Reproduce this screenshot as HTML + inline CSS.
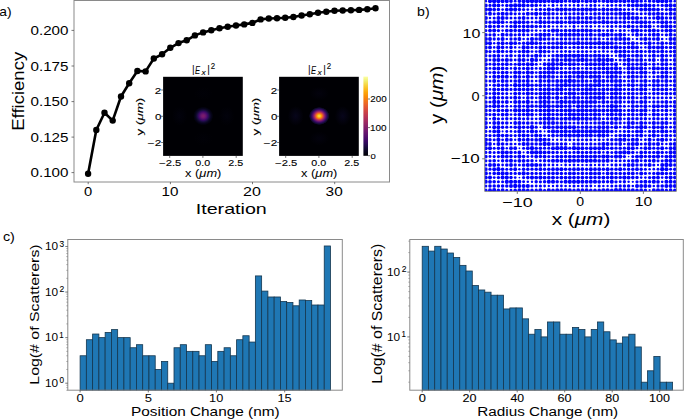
<!DOCTYPE html><html><head><meta charset="utf-8"><style>html,body{margin:0;padding:0;background:#fff}svg{display:block}</style></head><body><svg width="685" height="420" viewBox="0 0 685 420" font-family="Liberation Sans, sans-serif"><rect width="685" height="420" fill="#fff"/><rect x="74.0" y="0.5" width="315.5" height="181.5" fill="none" stroke="#8a8a8a" stroke-width="1"/>
<line x1="71.5" y1="30.4" x2="74.0" y2="30.4" stroke="#555" stroke-width="0.8"/>
<line x1="71.5" y1="66.0" x2="74.0" y2="66.0" stroke="#555" stroke-width="0.8"/>
<line x1="71.5" y1="101.6" x2="74.0" y2="101.6" stroke="#555" stroke-width="0.8"/>
<line x1="71.5" y1="137.1" x2="74.0" y2="137.1" stroke="#555" stroke-width="0.8"/>
<line x1="71.5" y1="172.6" x2="74.0" y2="172.6" stroke="#555" stroke-width="0.8"/>
<line x1="88.2" y1="182.0" x2="88.2" y2="184.2" stroke="#555" stroke-width="0.8"/>
<line x1="170.4" y1="182.0" x2="170.4" y2="184.2" stroke="#555" stroke-width="0.8"/>
<line x1="252.5" y1="182.0" x2="252.5" y2="184.2" stroke="#555" stroke-width="0.8"/>
<line x1="334.7" y1="182.0" x2="334.7" y2="184.2" stroke="#555" stroke-width="0.8"/>
<defs><radialGradient id="spot0" cx="0.5" cy="0.5" r="0.5"><stop offset="0.000" stop-color="#7c1d6d" stop-opacity="1"/><stop offset="0.050" stop-color="#7a1d6d" stop-opacity="1"/><stop offset="0.100" stop-color="#771c6d" stop-opacity="1"/><stop offset="0.150" stop-color="#721a6e" stop-opacity="1"/><stop offset="0.200" stop-color="#6c186e" stop-opacity="1"/><stop offset="0.250" stop-color="#64156e" stop-opacity="1"/><stop offset="0.300" stop-color="#5a116e" stop-opacity="1"/><stop offset="0.350" stop-color="#510e6c" stop-opacity="1"/><stop offset="0.400" stop-color="#470b6a" stop-opacity="1"/><stop offset="0.450" stop-color="#3b0964" stop-opacity="1"/><stop offset="0.500" stop-color="#310a5c" stop-opacity="1"/><stop offset="0.550" stop-color="#260c51" stop-opacity="1"/><stop offset="0.600" stop-color="#1c0c43" stop-opacity="1"/><stop offset="0.650" stop-color="#150b37" stop-opacity="1"/><stop offset="0.700" stop-color="#10092d" stop-opacity="1"/><stop offset="0.750" stop-color="#0b0724" stop-opacity="1"/><stop offset="0.800" stop-color="#07051b" stop-opacity="1"/><stop offset="0.850" stop-color="#050417" stop-opacity="1"/><stop offset="0.900" stop-color="#030210" stop-opacity="1"/><stop offset="0.950" stop-color="#02020c" stop-opacity="1"/><stop offset="1.000" stop-color="#02010a" stop-opacity="0"/></radialGradient>
<radialGradient id="lobe0" cx="0.5" cy="0.5" r="0.5"><stop offset="0" stop-color="#02020c" stop-opacity="1"/><stop offset="1" stop-color="#02020c" stop-opacity="0"/></radialGradient></defs>
<rect x="163.1" y="76.8" width="79.70000000000002" height="79.10000000000001" fill="#000004"/>
<ellipse cx="179.7" cy="116.0" rx="8" ry="10" fill="url(#lobe0)" opacity="1"/>
<ellipse cx="226.7" cy="116.0" rx="8" ry="10" fill="url(#lobe0)" opacity="1"/>
<ellipse cx="203.2" cy="93.5" rx="10" ry="7" fill="url(#lobe0)" opacity="0.4"/>
<ellipse cx="203.2" cy="138.5" rx="10" ry="7" fill="url(#lobe0)" opacity="0.4"/>
<ellipse cx="203.2" cy="116.0" rx="10" ry="9.3" fill="url(#spot0)"/>
<line x1="161.1" y1="90.0" x2="163.1" y2="90.0" stroke="#555" stroke-width="0.8"/>
<line x1="161.1" y1="116.3" x2="163.1" y2="116.3" stroke="#555" stroke-width="0.8"/>
<line x1="161.1" y1="142.5" x2="163.1" y2="142.5" stroke="#555" stroke-width="0.8"/>
<line x1="169.7" y1="155.9" x2="169.7" y2="157.9" stroke="#555" stroke-width="0.8"/>
<line x1="202.9" y1="155.9" x2="202.9" y2="157.9" stroke="#555" stroke-width="0.8"/>
<line x1="236.2" y1="155.9" x2="236.2" y2="157.9" stroke="#555" stroke-width="0.8"/>
<defs><radialGradient id="spot116" cx="0.5" cy="0.5" r="0.5"><stop offset="0.000" stop-color="#f6d746" stop-opacity="1"/><stop offset="0.050" stop-color="#f7d340" stop-opacity="1"/><stop offset="0.100" stop-color="#f9c932" stop-opacity="1"/><stop offset="0.150" stop-color="#fbba1f" stop-opacity="1"/><stop offset="0.200" stop-color="#fca50a" stop-opacity="1"/><stop offset="0.250" stop-color="#f98b0b" stop-opacity="1"/><stop offset="0.300" stop-color="#f1711f" stop-opacity="1"/><stop offset="0.350" stop-color="#e35933" stop-opacity="1"/><stop offset="0.400" stop-color="#cf4446" stop-opacity="1"/><stop offset="0.450" stop-color="#b73557" stop-opacity="1"/><stop offset="0.500" stop-color="#9d2964" stop-opacity="1"/><stop offset="0.550" stop-color="#84206b" stop-opacity="1"/><stop offset="0.600" stop-color="#6d186e" stop-opacity="1"/><stop offset="0.650" stop-color="#57106e" stop-opacity="1"/><stop offset="0.700" stop-color="#440a68" stop-opacity="1"/><stop offset="0.750" stop-color="#320a5e" stop-opacity="1"/><stop offset="0.800" stop-color="#230c4c" stop-opacity="1"/><stop offset="0.850" stop-color="#180c3c" stop-opacity="1"/><stop offset="0.900" stop-color="#10092d" stop-opacity="1"/><stop offset="0.950" stop-color="#0a0722" stop-opacity="1"/><stop offset="1.000" stop-color="#060419" stop-opacity="0"/></radialGradient>
<radialGradient id="lobe116" cx="0.5" cy="0.5" r="0.5"><stop offset="0" stop-color="#07051b" stop-opacity="1"/><stop offset="1" stop-color="#07051b" stop-opacity="0"/></radialGradient></defs>
<rect x="279.1" y="76.8" width="79.69999999999999" height="79.10000000000001" fill="#000004"/>
<ellipse cx="295.7" cy="116.0" rx="8" ry="10" fill="url(#lobe116)" opacity="1"/>
<ellipse cx="342.7" cy="116.0" rx="8" ry="10" fill="url(#lobe116)" opacity="1"/>
<ellipse cx="319.2" cy="93.5" rx="10" ry="7" fill="url(#lobe116)" opacity="0.4"/>
<ellipse cx="319.2" cy="138.5" rx="10" ry="7" fill="url(#lobe116)" opacity="0.4"/>
<ellipse cx="319.2" cy="116.0" rx="10.2" ry="9.0" fill="url(#spot116)"/>
<line x1="277.1" y1="90.0" x2="279.1" y2="90.0" stroke="#555" stroke-width="0.8"/>
<line x1="277.1" y1="116.3" x2="279.1" y2="116.3" stroke="#555" stroke-width="0.8"/>
<line x1="277.1" y1="142.5" x2="279.1" y2="142.5" stroke="#555" stroke-width="0.8"/>
<line x1="285.7" y1="155.9" x2="285.7" y2="157.9" stroke="#555" stroke-width="0.8"/>
<line x1="318.9" y1="155.9" x2="318.9" y2="157.9" stroke="#555" stroke-width="0.8"/>
<line x1="352.2" y1="155.9" x2="352.2" y2="157.9" stroke="#555" stroke-width="0.8"/>
<defs><linearGradient id="cbar" x1="0" y1="0" x2="0" y2="1"><stop offset="0.00" stop-color="#fcffa4"/><stop offset="0.05" stop-color="#f1ef75"/><stop offset="0.10" stop-color="#f6d746"/><stop offset="0.15" stop-color="#fbbe23"/><stop offset="0.20" stop-color="#fca50a"/><stop offset="0.25" stop-color="#f98e09"/><stop offset="0.30" stop-color="#f37819"/><stop offset="0.35" stop-color="#ea632a"/><stop offset="0.40" stop-color="#dd513a"/><stop offset="0.45" stop-color="#cc4248"/><stop offset="0.50" stop-color="#bc3754"/><stop offset="0.55" stop-color="#a82e5f"/><stop offset="0.60" stop-color="#932667"/><stop offset="0.65" stop-color="#7f1e6c"/><stop offset="0.70" stop-color="#6a176e"/><stop offset="0.75" stop-color="#57106e"/><stop offset="0.80" stop-color="#420a68"/><stop offset="0.85" stop-color="#2b0b57"/><stop offset="0.90" stop-color="#160b39"/><stop offset="0.95" stop-color="#07051b"/><stop offset="1.00" stop-color="#000004"/></linearGradient></defs>
<rect x="363.4" y="76.6" width="4.6" height="79.2" fill="url(#cbar)"/>
<line x1="368" y1="155.7" x2="370" y2="155.7" stroke="#555" stroke-width="0.8"/>
<line x1="368" y1="127.6" x2="370" y2="127.6" stroke="#555" stroke-width="0.8"/>
<line x1="368" y1="99.0" x2="370" y2="99.0" stroke="#555" stroke-width="0.8"/>
<path d="M88.1,173.7 L96.3,130.0 L104.5,112.8 L112.7,120.6 L121.0,96.5 L129.2,83.2 L137.4,71.0 L145.6,71.4 L153.8,58.5 L162.1,54.3 L170.3,47.8 L178.5,43.1 L186.7,40.3 L194.9,35.4 L203.1,32.4 L211.3,30.2 L219.5,28.2 L227.7,26.7 L236.0,25.5 L244.2,24.4 L252.4,22.9 L260.6,19.4 L268.8,18.5 L277.0,18.2 L285.2,17.8 L293.4,17.0 L301.6,15.5 L309.8,14.2 L318.0,12.7 L326.3,11.7 L334.5,10.8 L342.7,10.5 L350.9,10.2 L359.1,9.9 L367.3,9.2 L375.5,8.3" fill="none" stroke="#000" stroke-width="2.6" stroke-linejoin="round"/>
<circle cx="88.1" cy="173.7" r="3.2" fill="#000"/>
<circle cx="96.3" cy="130.0" r="3.2" fill="#000"/>
<circle cx="104.5" cy="112.8" r="3.2" fill="#000"/>
<circle cx="112.7" cy="120.6" r="3.2" fill="#000"/>
<circle cx="121.0" cy="96.5" r="3.2" fill="#000"/>
<circle cx="129.2" cy="83.2" r="3.2" fill="#000"/>
<circle cx="137.4" cy="71.0" r="3.2" fill="#000"/>
<circle cx="145.6" cy="71.4" r="3.2" fill="#000"/>
<circle cx="153.8" cy="58.5" r="3.2" fill="#000"/>
<circle cx="162.1" cy="54.3" r="3.2" fill="#000"/>
<circle cx="170.3" cy="47.8" r="3.2" fill="#000"/>
<circle cx="178.5" cy="43.1" r="3.2" fill="#000"/>
<circle cx="186.7" cy="40.3" r="3.2" fill="#000"/>
<circle cx="194.9" cy="35.4" r="3.2" fill="#000"/>
<circle cx="203.1" cy="32.4" r="3.2" fill="#000"/>
<circle cx="211.3" cy="30.2" r="3.2" fill="#000"/>
<circle cx="219.5" cy="28.2" r="3.2" fill="#000"/>
<circle cx="227.7" cy="26.7" r="3.2" fill="#000"/>
<circle cx="236.0" cy="25.5" r="3.2" fill="#000"/>
<circle cx="244.2" cy="24.4" r="3.2" fill="#000"/>
<circle cx="252.4" cy="22.9" r="3.2" fill="#000"/>
<circle cx="260.6" cy="19.4" r="3.2" fill="#000"/>
<circle cx="268.8" cy="18.5" r="3.2" fill="#000"/>
<circle cx="277.0" cy="18.2" r="3.2" fill="#000"/>
<circle cx="285.2" cy="17.8" r="3.2" fill="#000"/>
<circle cx="293.4" cy="17.0" r="3.2" fill="#000"/>
<circle cx="301.6" cy="15.5" r="3.2" fill="#000"/>
<circle cx="309.8" cy="14.2" r="3.2" fill="#000"/>
<circle cx="318.0" cy="12.7" r="3.2" fill="#000"/>
<circle cx="326.3" cy="11.7" r="3.2" fill="#000"/>
<circle cx="334.5" cy="10.8" r="3.2" fill="#000"/>
<circle cx="342.7" cy="10.5" r="3.2" fill="#000"/>
<circle cx="350.9" cy="10.2" r="3.2" fill="#000"/>
<circle cx="359.1" cy="9.9" r="3.2" fill="#000"/>
<circle cx="367.3" cy="9.2" r="3.2" fill="#000"/>
<circle cx="375.5" cy="8.3" r="3.2" fill="#000"/>
<defs><clipPath id="bclip"><rect x="484.7" y="0.0" width="191.7" height="191.4"/></clipPath></defs>
<g clip-path="url(#bclip)" fill="#0000ff">
<circle cx="485.8" cy="1.2" r="1.35"/>
<circle cx="490.0" cy="1.2" r="1.94"/>
<circle cx="494.2" cy="1.2" r="2.16"/>
<circle cx="498.4" cy="1.2" r="2.07"/>
<circle cx="502.6" cy="1.2" r="1.93"/>
<circle cx="506.8" cy="1.2" r="1.93"/>
<circle cx="511.0" cy="1.2" r="1.75"/>
<circle cx="515.2" cy="1.2" r="1.40"/>
<circle cx="519.4" cy="1.2" r="1.76"/>
<circle cx="523.6" cy="1.2" r="1.98"/>
<circle cx="527.8" cy="1.2" r="2.01"/>
<circle cx="532.0" cy="1.2" r="2.13"/>
<circle cx="536.2" cy="1.2" r="2.05"/>
<circle cx="540.4" cy="1.2" r="2.10"/>
<circle cx="544.6" cy="1.2" r="2.08"/>
<circle cx="548.8" cy="1.2" r="1.76"/>
<circle cx="553.0" cy="1.2" r="1.96"/>
<circle cx="557.2" cy="1.2" r="2.05"/>
<circle cx="561.4" cy="1.2" r="2.00"/>
<circle cx="565.6" cy="1.2" r="1.67"/>
<circle cx="569.8" cy="1.2" r="1.64"/>
<circle cx="574.0" cy="1.2" r="2.01"/>
<circle cx="578.2" cy="1.2" r="1.95"/>
<circle cx="582.4" cy="1.2" r="1.54"/>
<circle cx="586.6" cy="1.2" r="2.04"/>
<circle cx="590.8" cy="1.2" r="1.69"/>
<circle cx="595.0" cy="1.2" r="1.95"/>
<circle cx="599.2" cy="1.2" r="1.49"/>
<circle cx="603.4" cy="1.2" r="1.82"/>
<circle cx="607.6" cy="1.2" r="2.00"/>
<circle cx="611.8" cy="1.2" r="1.94"/>
<circle cx="616.0" cy="1.2" r="1.88"/>
<circle cx="620.2" cy="1.2" r="1.75"/>
<circle cx="624.4" cy="1.2" r="2.04"/>
<circle cx="628.6" cy="1.2" r="1.66"/>
<circle cx="632.8" cy="1.2" r="2.00"/>
<circle cx="637.0" cy="1.2" r="1.83"/>
<circle cx="641.2" cy="1.2" r="1.65"/>
<circle cx="645.4" cy="1.2" r="1.39"/>
<circle cx="649.6" cy="1.2" r="1.67"/>
<circle cx="653.8" cy="1.2" r="1.72"/>
<circle cx="658.0" cy="1.2" r="2.08"/>
<circle cx="662.2" cy="1.2" r="2.03"/>
<circle cx="666.4" cy="1.2" r="1.98"/>
<circle cx="670.6" cy="1.2" r="1.63"/>
<circle cx="674.8" cy="1.2" r="1.32"/>
<circle cx="485.8" cy="5.4" r="1.96"/>
<circle cx="490.0" cy="5.4" r="1.61"/>
<circle cx="494.2" cy="5.4" r="2.10"/>
<circle cx="498.4" cy="5.4" r="1.93"/>
<circle cx="502.6" cy="5.4" r="1.32"/>
<circle cx="506.8" cy="5.4" r="1.75"/>
<circle cx="511.0" cy="5.4" r="2.02"/>
<circle cx="515.2" cy="5.4" r="2.09"/>
<circle cx="519.4" cy="5.4" r="2.14"/>
<circle cx="523.6" cy="5.4" r="2.08"/>
<circle cx="527.8" cy="5.4" r="1.74"/>
<circle cx="532.0" cy="5.4" r="1.85"/>
<circle cx="536.2" cy="5.4" r="1.79"/>
<circle cx="540.4" cy="5.4" r="1.39"/>
<circle cx="544.6" cy="5.4" r="1.51"/>
<circle cx="548.8" cy="5.4" r="1.09"/>
<circle cx="553.0" cy="5.4" r="1.54"/>
<circle cx="557.2" cy="5.4" r="1.15"/>
<circle cx="561.4" cy="5.4" r="1.49"/>
<circle cx="565.6" cy="5.4" r="1.37"/>
<circle cx="569.8" cy="5.4" r="1.30"/>
<circle cx="574.0" cy="5.4" r="1.34"/>
<circle cx="578.2" cy="5.4" r="1.53"/>
<circle cx="582.4" cy="5.4" r="1.31"/>
<circle cx="586.6" cy="5.4" r="1.23"/>
<circle cx="590.8" cy="5.4" r="1.53"/>
<circle cx="595.0" cy="5.4" r="1.57"/>
<circle cx="599.2" cy="5.4" r="1.23"/>
<circle cx="603.4" cy="5.4" r="1.20"/>
<circle cx="607.6" cy="5.4" r="1.51"/>
<circle cx="611.8" cy="5.4" r="1.49"/>
<circle cx="616.0" cy="5.4" r="1.42"/>
<circle cx="620.2" cy="5.4" r="1.64"/>
<circle cx="624.4" cy="5.4" r="1.37"/>
<circle cx="628.6" cy="5.4" r="1.81"/>
<circle cx="632.8" cy="5.4" r="1.87"/>
<circle cx="637.0" cy="5.4" r="2.06"/>
<circle cx="641.2" cy="5.4" r="1.94"/>
<circle cx="645.4" cy="5.4" r="2.11"/>
<circle cx="649.6" cy="5.4" r="1.90"/>
<circle cx="653.8" cy="5.4" r="1.74"/>
<circle cx="658.0" cy="5.4" r="1.47"/>
<circle cx="662.2" cy="5.4" r="1.68"/>
<circle cx="666.4" cy="5.4" r="2.00"/>
<circle cx="670.6" cy="5.4" r="2.04"/>
<circle cx="674.8" cy="5.4" r="1.89"/>
<circle cx="485.8" cy="9.6" r="2.16"/>
<circle cx="490.0" cy="9.6" r="2.15"/>
<circle cx="494.2" cy="9.6" r="1.86"/>
<circle cx="498.4" cy="9.6" r="1.74"/>
<circle cx="502.6" cy="9.6" r="1.35"/>
<circle cx="506.8" cy="9.6" r="1.92"/>
<circle cx="511.0" cy="9.6" r="2.09"/>
<circle cx="515.2" cy="9.6" r="2.03"/>
<circle cx="519.4" cy="9.6" r="1.78"/>
<circle cx="523.6" cy="9.6" r="1.64"/>
<circle cx="527.8" cy="9.6" r="1.47"/>
<circle cx="532.0" cy="9.6" r="1.26"/>
<circle cx="536.2" cy="9.6" r="1.66"/>
<circle cx="540.4" cy="9.6" r="1.79"/>
<circle cx="544.6" cy="9.6" r="1.67"/>
<circle cx="548.8" cy="9.6" r="2.04"/>
<circle cx="553.0" cy="9.6" r="1.68"/>
<circle cx="557.2" cy="9.6" r="2.01"/>
<circle cx="561.4" cy="9.6" r="2.07"/>
<circle cx="565.6" cy="9.6" r="2.07"/>
<circle cx="569.8" cy="9.6" r="1.88"/>
<circle cx="574.0" cy="9.6" r="2.00"/>
<circle cx="578.2" cy="9.6" r="1.84"/>
<circle cx="582.4" cy="9.6" r="2.10"/>
<circle cx="586.6" cy="9.6" r="2.14"/>
<circle cx="590.8" cy="9.6" r="2.04"/>
<circle cx="595.0" cy="9.6" r="1.98"/>
<circle cx="599.2" cy="9.6" r="1.70"/>
<circle cx="603.4" cy="9.6" r="2.03"/>
<circle cx="607.6" cy="9.6" r="1.90"/>
<circle cx="611.8" cy="9.6" r="1.92"/>
<circle cx="616.0" cy="9.6" r="1.99"/>
<circle cx="620.2" cy="9.6" r="1.91"/>
<circle cx="624.4" cy="9.6" r="1.59"/>
<circle cx="628.6" cy="9.6" r="1.50"/>
<circle cx="632.8" cy="9.6" r="1.48"/>
<circle cx="637.0" cy="9.6" r="1.49"/>
<circle cx="641.2" cy="9.6" r="1.93"/>
<circle cx="645.4" cy="9.6" r="1.99"/>
<circle cx="649.6" cy="9.6" r="2.08"/>
<circle cx="653.8" cy="9.6" r="2.00"/>
<circle cx="658.0" cy="9.6" r="1.87"/>
<circle cx="662.2" cy="9.6" r="1.49"/>
<circle cx="666.4" cy="9.6" r="1.57"/>
<circle cx="670.6" cy="9.6" r="2.15"/>
<circle cx="674.8" cy="9.6" r="1.84"/>
<circle cx="485.8" cy="13.8" r="1.69"/>
<circle cx="490.0" cy="13.8" r="1.97"/>
<circle cx="494.2" cy="13.8" r="1.58"/>
<circle cx="498.4" cy="13.8" r="1.83"/>
<circle cx="502.6" cy="13.8" r="2.02"/>
<circle cx="506.8" cy="13.8" r="1.89"/>
<circle cx="511.0" cy="13.8" r="1.75"/>
<circle cx="515.2" cy="13.8" r="1.60"/>
<circle cx="519.4" cy="13.8" r="1.50"/>
<circle cx="523.6" cy="13.8" r="1.59"/>
<circle cx="527.8" cy="13.8" r="1.96"/>
<circle cx="532.0" cy="13.8" r="1.75"/>
<circle cx="536.2" cy="13.8" r="2.15"/>
<circle cx="540.4" cy="13.8" r="1.70"/>
<circle cx="544.6" cy="13.8" r="2.06"/>
<circle cx="548.8" cy="13.8" r="1.89"/>
<circle cx="553.0" cy="13.8" r="1.75"/>
<circle cx="557.2" cy="13.8" r="1.57"/>
<circle cx="561.4" cy="13.8" r="1.58"/>
<circle cx="565.6" cy="13.8" r="1.77"/>
<circle cx="569.8" cy="13.8" r="1.65"/>
<circle cx="574.0" cy="13.8" r="1.70"/>
<circle cx="578.2" cy="13.8" r="1.71"/>
<circle cx="582.4" cy="13.8" r="1.84"/>
<circle cx="586.6" cy="13.8" r="1.48"/>
<circle cx="590.8" cy="13.8" r="1.57"/>
<circle cx="595.0" cy="13.8" r="1.84"/>
<circle cx="599.2" cy="13.8" r="1.69"/>
<circle cx="603.4" cy="13.8" r="1.82"/>
<circle cx="607.6" cy="13.8" r="1.88"/>
<circle cx="611.8" cy="13.8" r="1.80"/>
<circle cx="616.0" cy="13.8" r="1.91"/>
<circle cx="620.2" cy="13.8" r="1.94"/>
<circle cx="624.4" cy="13.8" r="2.11"/>
<circle cx="628.6" cy="13.8" r="2.11"/>
<circle cx="632.8" cy="13.8" r="1.79"/>
<circle cx="637.0" cy="13.8" r="1.56"/>
<circle cx="641.2" cy="13.8" r="1.54"/>
<circle cx="645.4" cy="13.8" r="1.49"/>
<circle cx="649.6" cy="13.8" r="1.92"/>
<circle cx="653.8" cy="13.8" r="1.84"/>
<circle cx="658.0" cy="13.8" r="1.99"/>
<circle cx="662.2" cy="13.8" r="1.84"/>
<circle cx="666.4" cy="13.8" r="1.66"/>
<circle cx="670.6" cy="13.8" r="1.99"/>
<circle cx="674.8" cy="13.8" r="1.87"/>
<circle cx="485.8" cy="18.0" r="2.09"/>
<circle cx="490.0" cy="18.0" r="1.33"/>
<circle cx="494.2" cy="18.0" r="1.58"/>
<circle cx="498.4" cy="18.0" r="1.97"/>
<circle cx="502.6" cy="18.0" r="2.10"/>
<circle cx="506.8" cy="18.0" r="1.69"/>
<circle cx="511.0" cy="18.0" r="1.52"/>
<circle cx="515.2" cy="18.0" r="1.54"/>
<circle cx="519.4" cy="18.0" r="1.78"/>
<circle cx="523.6" cy="18.0" r="1.95"/>
<circle cx="527.8" cy="18.0" r="1.62"/>
<circle cx="532.0" cy="18.0" r="1.51"/>
<circle cx="536.2" cy="18.0" r="1.42"/>
<circle cx="540.4" cy="18.0" r="1.66"/>
<circle cx="544.6" cy="18.0" r="1.58"/>
<circle cx="548.8" cy="18.0" r="1.82"/>
<circle cx="553.0" cy="18.0" r="1.48"/>
<circle cx="557.2" cy="18.0" r="1.68"/>
<circle cx="561.4" cy="18.0" r="1.60"/>
<circle cx="565.6" cy="18.0" r="1.64"/>
<circle cx="569.8" cy="18.0" r="1.89"/>
<circle cx="574.0" cy="18.0" r="1.79"/>
<circle cx="578.2" cy="18.0" r="1.91"/>
<circle cx="582.4" cy="18.0" r="1.79"/>
<circle cx="586.6" cy="18.0" r="1.88"/>
<circle cx="590.8" cy="18.0" r="1.94"/>
<circle cx="595.0" cy="18.0" r="1.69"/>
<circle cx="599.2" cy="18.0" r="1.88"/>
<circle cx="603.4" cy="18.0" r="1.79"/>
<circle cx="607.6" cy="18.0" r="1.82"/>
<circle cx="611.8" cy="18.0" r="1.73"/>
<circle cx="616.0" cy="18.0" r="1.67"/>
<circle cx="620.2" cy="18.0" r="1.67"/>
<circle cx="624.4" cy="18.0" r="1.89"/>
<circle cx="628.6" cy="18.0" r="1.98"/>
<circle cx="632.8" cy="18.0" r="1.98"/>
<circle cx="637.0" cy="18.0" r="2.11"/>
<circle cx="641.2" cy="18.0" r="1.62"/>
<circle cx="645.4" cy="18.0" r="1.67"/>
<circle cx="649.6" cy="18.0" r="1.54"/>
<circle cx="653.8" cy="18.0" r="1.71"/>
<circle cx="658.0" cy="18.0" r="2.16"/>
<circle cx="662.2" cy="18.0" r="1.99"/>
<circle cx="666.4" cy="18.0" r="1.73"/>
<circle cx="670.6" cy="18.0" r="1.78"/>
<circle cx="674.8" cy="18.0" r="1.94"/>
<circle cx="485.8" cy="22.2" r="1.90"/>
<circle cx="490.0" cy="22.2" r="1.68"/>
<circle cx="494.2" cy="22.2" r="1.89"/>
<circle cx="498.4" cy="22.2" r="2.15"/>
<circle cx="502.6" cy="22.2" r="1.88"/>
<circle cx="506.8" cy="22.2" r="1.28"/>
<circle cx="511.0" cy="22.2" r="1.57"/>
<circle cx="515.2" cy="22.2" r="2.05"/>
<circle cx="519.4" cy="22.2" r="2.01"/>
<circle cx="523.6" cy="22.2" r="1.92"/>
<circle cx="527.8" cy="22.2" r="1.79"/>
<circle cx="532.0" cy="22.2" r="1.38"/>
<circle cx="536.2" cy="22.2" r="1.67"/>
<circle cx="540.4" cy="22.2" r="2.08"/>
<circle cx="544.6" cy="22.2" r="1.95"/>
<circle cx="548.8" cy="22.2" r="1.84"/>
<circle cx="553.0" cy="22.2" r="1.79"/>
<circle cx="557.2" cy="22.2" r="1.94"/>
<circle cx="561.4" cy="22.2" r="2.04"/>
<circle cx="565.6" cy="22.2" r="1.70"/>
<circle cx="569.8" cy="22.2" r="2.00"/>
<circle cx="574.0" cy="22.2" r="1.98"/>
<circle cx="578.2" cy="22.2" r="1.99"/>
<circle cx="582.4" cy="22.2" r="1.92"/>
<circle cx="586.6" cy="22.2" r="2.02"/>
<circle cx="590.8" cy="22.2" r="1.79"/>
<circle cx="595.0" cy="22.2" r="1.93"/>
<circle cx="599.2" cy="22.2" r="1.82"/>
<circle cx="603.4" cy="22.2" r="2.08"/>
<circle cx="607.6" cy="22.2" r="1.96"/>
<circle cx="611.8" cy="22.2" r="1.82"/>
<circle cx="616.0" cy="22.2" r="1.93"/>
<circle cx="620.2" cy="22.2" r="1.65"/>
<circle cx="624.4" cy="22.2" r="1.89"/>
<circle cx="628.6" cy="22.2" r="1.49"/>
<circle cx="632.8" cy="22.2" r="1.81"/>
<circle cx="637.0" cy="22.2" r="1.86"/>
<circle cx="641.2" cy="22.2" r="2.06"/>
<circle cx="645.4" cy="22.2" r="2.01"/>
<circle cx="649.6" cy="22.2" r="1.69"/>
<circle cx="653.8" cy="22.2" r="1.57"/>
<circle cx="658.0" cy="22.2" r="1.63"/>
<circle cx="662.2" cy="22.2" r="2.05"/>
<circle cx="666.4" cy="22.2" r="1.95"/>
<circle cx="670.6" cy="22.2" r="1.66"/>
<circle cx="674.8" cy="22.2" r="1.69"/>
<circle cx="485.8" cy="26.4" r="1.61"/>
<circle cx="490.0" cy="26.4" r="1.94"/>
<circle cx="494.2" cy="26.4" r="1.60"/>
<circle cx="498.4" cy="26.4" r="1.83"/>
<circle cx="502.6" cy="26.4" r="1.45"/>
<circle cx="506.8" cy="26.4" r="1.32"/>
<circle cx="511.0" cy="26.4" r="1.70"/>
<circle cx="515.2" cy="26.4" r="2.05"/>
<circle cx="519.4" cy="26.4" r="1.68"/>
<circle cx="523.6" cy="26.4" r="1.83"/>
<circle cx="527.8" cy="26.4" r="1.92"/>
<circle cx="532.0" cy="26.4" r="1.86"/>
<circle cx="536.2" cy="26.4" r="1.75"/>
<circle cx="540.4" cy="26.4" r="1.70"/>
<circle cx="544.6" cy="26.4" r="1.60"/>
<circle cx="548.8" cy="26.4" r="1.57"/>
<circle cx="553.0" cy="26.4" r="1.20"/>
<circle cx="557.2" cy="26.4" r="1.27"/>
<circle cx="561.4" cy="26.4" r="1.41"/>
<circle cx="565.6" cy="26.4" r="1.27"/>
<circle cx="569.8" cy="26.4" r="1.08"/>
<circle cx="574.0" cy="26.4" r="1.54"/>
<circle cx="578.2" cy="26.4" r="1.12"/>
<circle cx="582.4" cy="26.4" r="1.39"/>
<circle cx="586.6" cy="26.4" r="1.46"/>
<circle cx="590.8" cy="26.4" r="1.49"/>
<circle cx="595.0" cy="26.4" r="1.13"/>
<circle cx="599.2" cy="26.4" r="1.45"/>
<circle cx="603.4" cy="26.4" r="1.27"/>
<circle cx="607.6" cy="26.4" r="1.48"/>
<circle cx="611.8" cy="26.4" r="1.56"/>
<circle cx="616.0" cy="26.4" r="1.38"/>
<circle cx="620.2" cy="26.4" r="1.61"/>
<circle cx="624.4" cy="26.4" r="1.71"/>
<circle cx="628.6" cy="26.4" r="1.97"/>
<circle cx="632.8" cy="26.4" r="1.74"/>
<circle cx="637.0" cy="26.4" r="1.51"/>
<circle cx="641.2" cy="26.4" r="1.80"/>
<circle cx="645.4" cy="26.4" r="1.89"/>
<circle cx="649.6" cy="26.4" r="1.99"/>
<circle cx="653.8" cy="26.4" r="1.14"/>
<circle cx="658.0" cy="26.4" r="1.44"/>
<circle cx="662.2" cy="26.4" r="1.87"/>
<circle cx="666.4" cy="26.4" r="2.10"/>
<circle cx="670.6" cy="26.4" r="1.89"/>
<circle cx="674.8" cy="26.4" r="1.70"/>
<circle cx="485.8" cy="30.6" r="1.61"/>
<circle cx="490.0" cy="30.6" r="1.87"/>
<circle cx="494.2" cy="30.6" r="2.00"/>
<circle cx="498.4" cy="30.6" r="1.71"/>
<circle cx="502.6" cy="30.6" r="1.32"/>
<circle cx="506.8" cy="30.6" r="1.84"/>
<circle cx="511.0" cy="30.6" r="1.91"/>
<circle cx="515.2" cy="30.6" r="1.78"/>
<circle cx="519.4" cy="30.6" r="1.85"/>
<circle cx="523.6" cy="30.6" r="2.06"/>
<circle cx="527.8" cy="30.6" r="1.91"/>
<circle cx="532.0" cy="30.6" r="1.45"/>
<circle cx="536.2" cy="30.6" r="1.44"/>
<circle cx="540.4" cy="30.6" r="1.21"/>
<circle cx="544.6" cy="30.6" r="1.68"/>
<circle cx="548.8" cy="30.6" r="1.60"/>
<circle cx="553.0" cy="30.6" r="2.03"/>
<circle cx="557.2" cy="30.6" r="2.07"/>
<circle cx="561.4" cy="30.6" r="1.68"/>
<circle cx="565.6" cy="30.6" r="1.87"/>
<circle cx="569.8" cy="30.6" r="1.79"/>
<circle cx="574.0" cy="30.6" r="1.98"/>
<circle cx="578.2" cy="30.6" r="1.86"/>
<circle cx="582.4" cy="30.6" r="2.00"/>
<circle cx="586.6" cy="30.6" r="2.04"/>
<circle cx="590.8" cy="30.6" r="1.95"/>
<circle cx="595.0" cy="30.6" r="1.72"/>
<circle cx="599.2" cy="30.6" r="1.94"/>
<circle cx="603.4" cy="30.6" r="1.44"/>
<circle cx="607.6" cy="30.6" r="1.56"/>
<circle cx="611.8" cy="30.6" r="1.90"/>
<circle cx="616.0" cy="30.6" r="1.21"/>
<circle cx="620.2" cy="30.6" r="1.55"/>
<circle cx="624.4" cy="30.6" r="1.50"/>
<circle cx="628.6" cy="30.6" r="1.21"/>
<circle cx="632.8" cy="30.6" r="2.06"/>
<circle cx="637.0" cy="30.6" r="2.07"/>
<circle cx="641.2" cy="30.6" r="1.72"/>
<circle cx="645.4" cy="30.6" r="1.69"/>
<circle cx="649.6" cy="30.6" r="1.85"/>
<circle cx="653.8" cy="30.6" r="2.01"/>
<circle cx="658.0" cy="30.6" r="1.67"/>
<circle cx="662.2" cy="30.6" r="1.56"/>
<circle cx="666.4" cy="30.6" r="1.95"/>
<circle cx="670.6" cy="30.6" r="2.14"/>
<circle cx="674.8" cy="30.6" r="1.71"/>
<circle cx="485.8" cy="34.8" r="1.88"/>
<circle cx="490.0" cy="34.8" r="1.62"/>
<circle cx="494.2" cy="34.8" r="1.85"/>
<circle cx="498.4" cy="34.8" r="1.17"/>
<circle cx="502.6" cy="34.8" r="2.02"/>
<circle cx="506.8" cy="34.8" r="1.69"/>
<circle cx="511.0" cy="34.8" r="1.87"/>
<circle cx="515.2" cy="34.8" r="1.62"/>
<circle cx="519.4" cy="34.8" r="1.77"/>
<circle cx="523.6" cy="34.8" r="1.69"/>
<circle cx="527.8" cy="34.8" r="1.56"/>
<circle cx="532.0" cy="34.8" r="1.48"/>
<circle cx="536.2" cy="34.8" r="1.73"/>
<circle cx="540.4" cy="34.8" r="2.12"/>
<circle cx="544.6" cy="34.8" r="2.09"/>
<circle cx="548.8" cy="34.8" r="1.93"/>
<circle cx="553.0" cy="34.8" r="1.37"/>
<circle cx="557.2" cy="34.8" r="1.74"/>
<circle cx="561.4" cy="34.8" r="2.07"/>
<circle cx="565.6" cy="34.8" r="2.03"/>
<circle cx="569.8" cy="34.8" r="1.96"/>
<circle cx="574.0" cy="34.8" r="2.02"/>
<circle cx="578.2" cy="34.8" r="2.01"/>
<circle cx="582.4" cy="34.8" r="1.85"/>
<circle cx="586.6" cy="34.8" r="1.83"/>
<circle cx="590.8" cy="34.8" r="1.99"/>
<circle cx="595.0" cy="34.8" r="1.67"/>
<circle cx="599.2" cy="34.8" r="1.85"/>
<circle cx="603.4" cy="34.8" r="2.11"/>
<circle cx="607.6" cy="34.8" r="2.02"/>
<circle cx="611.8" cy="34.8" r="1.78"/>
<circle cx="616.0" cy="34.8" r="1.90"/>
<circle cx="620.2" cy="34.8" r="2.11"/>
<circle cx="624.4" cy="34.8" r="1.77"/>
<circle cx="628.6" cy="34.8" r="1.26"/>
<circle cx="632.8" cy="34.8" r="1.45"/>
<circle cx="637.0" cy="34.8" r="1.94"/>
<circle cx="641.2" cy="34.8" r="1.73"/>
<circle cx="645.4" cy="34.8" r="1.58"/>
<circle cx="649.6" cy="34.8" r="1.70"/>
<circle cx="653.8" cy="34.8" r="1.97"/>
<circle cx="658.0" cy="34.8" r="1.95"/>
<circle cx="662.2" cy="34.8" r="1.32"/>
<circle cx="666.4" cy="34.8" r="1.67"/>
<circle cx="670.6" cy="34.8" r="1.97"/>
<circle cx="674.8" cy="34.8" r="1.64"/>
<circle cx="485.8" cy="39.0" r="2.09"/>
<circle cx="490.0" cy="39.0" r="1.95"/>
<circle cx="494.2" cy="39.0" r="1.64"/>
<circle cx="498.4" cy="39.0" r="1.64"/>
<circle cx="502.6" cy="39.0" r="2.03"/>
<circle cx="506.8" cy="39.0" r="1.30"/>
<circle cx="511.0" cy="39.0" r="1.68"/>
<circle cx="515.2" cy="39.0" r="1.78"/>
<circle cx="519.4" cy="39.0" r="1.91"/>
<circle cx="523.6" cy="39.0" r="1.33"/>
<circle cx="527.8" cy="39.0" r="1.51"/>
<circle cx="532.0" cy="39.0" r="2.03"/>
<circle cx="536.2" cy="39.0" r="1.80"/>
<circle cx="540.4" cy="39.0" r="2.12"/>
<circle cx="544.6" cy="39.0" r="1.84"/>
<circle cx="548.8" cy="39.0" r="1.78"/>
<circle cx="553.0" cy="39.0" r="1.64"/>
<circle cx="557.2" cy="39.0" r="1.59"/>
<circle cx="561.4" cy="39.0" r="1.81"/>
<circle cx="565.6" cy="39.0" r="1.73"/>
<circle cx="569.8" cy="39.0" r="1.75"/>
<circle cx="574.0" cy="39.0" r="1.68"/>
<circle cx="578.2" cy="39.0" r="1.74"/>
<circle cx="582.4" cy="39.0" r="1.79"/>
<circle cx="586.6" cy="39.0" r="1.80"/>
<circle cx="590.8" cy="39.0" r="1.77"/>
<circle cx="595.0" cy="39.0" r="1.75"/>
<circle cx="599.2" cy="39.0" r="1.64"/>
<circle cx="603.4" cy="39.0" r="1.27"/>
<circle cx="607.6" cy="39.0" r="1.61"/>
<circle cx="611.8" cy="39.0" r="1.74"/>
<circle cx="616.0" cy="39.0" r="1.91"/>
<circle cx="620.2" cy="39.0" r="1.93"/>
<circle cx="624.4" cy="39.0" r="2.06"/>
<circle cx="628.6" cy="39.0" r="1.85"/>
<circle cx="632.8" cy="39.0" r="1.09"/>
<circle cx="637.0" cy="39.0" r="1.37"/>
<circle cx="641.2" cy="39.0" r="1.73"/>
<circle cx="645.4" cy="39.0" r="2.09"/>
<circle cx="649.6" cy="39.0" r="1.67"/>
<circle cx="653.8" cy="39.0" r="1.83"/>
<circle cx="658.0" cy="39.0" r="1.99"/>
<circle cx="662.2" cy="39.0" r="1.32"/>
<circle cx="666.4" cy="39.0" r="1.03"/>
<circle cx="670.6" cy="39.0" r="2.08"/>
<circle cx="674.8" cy="39.0" r="2.05"/>
<circle cx="485.8" cy="43.2" r="2.16"/>
<circle cx="490.0" cy="43.2" r="2.01"/>
<circle cx="494.2" cy="43.2" r="1.23"/>
<circle cx="498.4" cy="43.2" r="1.80"/>
<circle cx="502.6" cy="43.2" r="1.95"/>
<circle cx="506.8" cy="43.2" r="1.56"/>
<circle cx="511.0" cy="43.2" r="2.02"/>
<circle cx="515.2" cy="43.2" r="1.87"/>
<circle cx="519.4" cy="43.2" r="1.54"/>
<circle cx="523.6" cy="43.2" r="1.73"/>
<circle cx="527.8" cy="43.2" r="2.01"/>
<circle cx="532.0" cy="43.2" r="2.13"/>
<circle cx="536.2" cy="43.2" r="1.85"/>
<circle cx="540.4" cy="43.2" r="1.78"/>
<circle cx="544.6" cy="43.2" r="1.57"/>
<circle cx="548.8" cy="43.2" r="1.81"/>
<circle cx="553.0" cy="43.2" r="1.81"/>
<circle cx="557.2" cy="43.2" r="1.85"/>
<circle cx="561.4" cy="43.2" r="2.05"/>
<circle cx="565.6" cy="43.2" r="1.92"/>
<circle cx="569.8" cy="43.2" r="1.90"/>
<circle cx="574.0" cy="43.2" r="1.94"/>
<circle cx="578.2" cy="43.2" r="2.11"/>
<circle cx="582.4" cy="43.2" r="1.92"/>
<circle cx="586.6" cy="43.2" r="2.06"/>
<circle cx="590.8" cy="43.2" r="2.01"/>
<circle cx="595.0" cy="43.2" r="2.02"/>
<circle cx="599.2" cy="43.2" r="2.12"/>
<circle cx="603.4" cy="43.2" r="2.06"/>
<circle cx="607.6" cy="43.2" r="2.07"/>
<circle cx="611.8" cy="43.2" r="1.86"/>
<circle cx="616.0" cy="43.2" r="1.67"/>
<circle cx="620.2" cy="43.2" r="1.57"/>
<circle cx="624.4" cy="43.2" r="1.88"/>
<circle cx="628.6" cy="43.2" r="1.80"/>
<circle cx="632.8" cy="43.2" r="1.96"/>
<circle cx="637.0" cy="43.2" r="1.50"/>
<circle cx="641.2" cy="43.2" r="1.52"/>
<circle cx="645.4" cy="43.2" r="1.76"/>
<circle cx="649.6" cy="43.2" r="1.98"/>
<circle cx="653.8" cy="43.2" r="1.44"/>
<circle cx="658.0" cy="43.2" r="1.66"/>
<circle cx="662.2" cy="43.2" r="1.91"/>
<circle cx="666.4" cy="43.2" r="1.49"/>
<circle cx="670.6" cy="43.2" r="1.88"/>
<circle cx="674.8" cy="43.2" r="2.04"/>
<circle cx="485.8" cy="47.4" r="1.85"/>
<circle cx="490.0" cy="47.4" r="1.90"/>
<circle cx="494.2" cy="47.4" r="1.29"/>
<circle cx="498.4" cy="47.4" r="2.09"/>
<circle cx="502.6" cy="47.4" r="1.81"/>
<circle cx="506.8" cy="47.4" r="1.41"/>
<circle cx="511.0" cy="47.4" r="1.81"/>
<circle cx="515.2" cy="47.4" r="1.32"/>
<circle cx="519.4" cy="47.4" r="1.22"/>
<circle cx="523.6" cy="47.4" r="2.05"/>
<circle cx="527.8" cy="47.4" r="1.89"/>
<circle cx="532.0" cy="47.4" r="1.63"/>
<circle cx="536.2" cy="47.4" r="1.56"/>
<circle cx="540.4" cy="47.4" r="1.95"/>
<circle cx="544.6" cy="47.4" r="1.83"/>
<circle cx="548.8" cy="47.4" r="1.75"/>
<circle cx="553.0" cy="47.4" r="1.95"/>
<circle cx="557.2" cy="47.4" r="1.86"/>
<circle cx="561.4" cy="47.4" r="1.89"/>
<circle cx="565.6" cy="47.4" r="1.53"/>
<circle cx="569.8" cy="47.4" r="1.52"/>
<circle cx="574.0" cy="47.4" r="1.71"/>
<circle cx="578.2" cy="47.4" r="1.77"/>
<circle cx="582.4" cy="47.4" r="1.79"/>
<circle cx="586.6" cy="47.4" r="1.70"/>
<circle cx="590.8" cy="47.4" r="1.79"/>
<circle cx="595.0" cy="47.4" r="1.66"/>
<circle cx="599.2" cy="47.4" r="1.65"/>
<circle cx="603.4" cy="47.4" r="2.01"/>
<circle cx="607.6" cy="47.4" r="1.84"/>
<circle cx="611.8" cy="47.4" r="1.83"/>
<circle cx="616.0" cy="47.4" r="2.14"/>
<circle cx="620.2" cy="47.4" r="1.77"/>
<circle cx="624.4" cy="47.4" r="1.74"/>
<circle cx="628.6" cy="47.4" r="1.83"/>
<circle cx="632.8" cy="47.4" r="2.12"/>
<circle cx="637.0" cy="47.4" r="1.88"/>
<circle cx="641.2" cy="47.4" r="1.26"/>
<circle cx="645.4" cy="47.4" r="1.32"/>
<circle cx="649.6" cy="47.4" r="2.05"/>
<circle cx="653.8" cy="47.4" r="1.81"/>
<circle cx="658.0" cy="47.4" r="1.99"/>
<circle cx="662.2" cy="47.4" r="2.03"/>
<circle cx="666.4" cy="47.4" r="1.58"/>
<circle cx="670.6" cy="47.4" r="1.77"/>
<circle cx="674.8" cy="47.4" r="1.95"/>
<circle cx="485.8" cy="51.6" r="2.16"/>
<circle cx="490.0" cy="51.6" r="1.61"/>
<circle cx="494.2" cy="51.6" r="1.50"/>
<circle cx="498.4" cy="51.6" r="2.00"/>
<circle cx="502.6" cy="51.6" r="1.76"/>
<circle cx="506.8" cy="51.6" r="1.50"/>
<circle cx="511.0" cy="51.6" r="1.81"/>
<circle cx="515.2" cy="51.6" r="1.45"/>
<circle cx="519.4" cy="51.6" r="1.70"/>
<circle cx="523.6" cy="51.6" r="2.00"/>
<circle cx="527.8" cy="51.6" r="1.96"/>
<circle cx="532.0" cy="51.6" r="1.47"/>
<circle cx="536.2" cy="51.6" r="1.45"/>
<circle cx="540.4" cy="51.6" r="2.05"/>
<circle cx="544.6" cy="51.6" r="1.88"/>
<circle cx="548.8" cy="51.6" r="1.67"/>
<circle cx="553.0" cy="51.6" r="1.33"/>
<circle cx="557.2" cy="51.6" r="1.36"/>
<circle cx="561.4" cy="51.6" r="1.50"/>
<circle cx="565.6" cy="51.6" r="1.48"/>
<circle cx="569.8" cy="51.6" r="1.70"/>
<circle cx="574.0" cy="51.6" r="1.42"/>
<circle cx="578.2" cy="51.6" r="1.57"/>
<circle cx="582.4" cy="51.6" r="1.61"/>
<circle cx="586.6" cy="51.6" r="1.58"/>
<circle cx="590.8" cy="51.6" r="1.40"/>
<circle cx="595.0" cy="51.6" r="1.63"/>
<circle cx="599.2" cy="51.6" r="1.41"/>
<circle cx="603.4" cy="51.6" r="1.48"/>
<circle cx="607.6" cy="51.6" r="1.44"/>
<circle cx="611.8" cy="51.6" r="1.36"/>
<circle cx="616.0" cy="51.6" r="1.88"/>
<circle cx="620.2" cy="51.6" r="1.85"/>
<circle cx="624.4" cy="51.6" r="2.00"/>
<circle cx="628.6" cy="51.6" r="1.68"/>
<circle cx="632.8" cy="51.6" r="1.72"/>
<circle cx="637.0" cy="51.6" r="1.76"/>
<circle cx="641.2" cy="51.6" r="1.82"/>
<circle cx="645.4" cy="51.6" r="1.51"/>
<circle cx="649.6" cy="51.6" r="1.82"/>
<circle cx="653.8" cy="51.6" r="1.90"/>
<circle cx="658.0" cy="51.6" r="1.71"/>
<circle cx="662.2" cy="51.6" r="1.98"/>
<circle cx="666.4" cy="51.6" r="1.54"/>
<circle cx="670.6" cy="51.6" r="1.68"/>
<circle cx="674.8" cy="51.6" r="2.09"/>
<circle cx="485.8" cy="55.8" r="1.69"/>
<circle cx="490.0" cy="55.8" r="1.61"/>
<circle cx="494.2" cy="55.8" r="1.92"/>
<circle cx="498.4" cy="55.8" r="1.86"/>
<circle cx="502.6" cy="55.8" r="1.35"/>
<circle cx="506.8" cy="55.8" r="1.64"/>
<circle cx="511.0" cy="55.8" r="1.81"/>
<circle cx="515.2" cy="55.8" r="1.28"/>
<circle cx="519.4" cy="55.8" r="1.85"/>
<circle cx="523.6" cy="55.8" r="1.77"/>
<circle cx="527.8" cy="55.8" r="1.75"/>
<circle cx="532.0" cy="55.8" r="1.62"/>
<circle cx="536.2" cy="55.8" r="2.11"/>
<circle cx="540.4" cy="55.8" r="1.76"/>
<circle cx="544.6" cy="55.8" r="1.54"/>
<circle cx="548.8" cy="55.8" r="1.34"/>
<circle cx="553.0" cy="55.8" r="1.68"/>
<circle cx="557.2" cy="55.8" r="1.94"/>
<circle cx="561.4" cy="55.8" r="2.04"/>
<circle cx="565.6" cy="55.8" r="2.13"/>
<circle cx="569.8" cy="55.8" r="2.01"/>
<circle cx="574.0" cy="55.8" r="2.13"/>
<circle cx="578.2" cy="55.8" r="2.15"/>
<circle cx="582.4" cy="55.8" r="1.99"/>
<circle cx="586.6" cy="55.8" r="1.97"/>
<circle cx="590.8" cy="55.8" r="1.83"/>
<circle cx="595.0" cy="55.8" r="2.03"/>
<circle cx="599.2" cy="55.8" r="1.98"/>
<circle cx="603.4" cy="55.8" r="1.90"/>
<circle cx="607.6" cy="55.8" r="1.82"/>
<circle cx="611.8" cy="55.8" r="1.25"/>
<circle cx="616.0" cy="55.8" r="1.24"/>
<circle cx="620.2" cy="55.8" r="1.98"/>
<circle cx="624.4" cy="55.8" r="2.15"/>
<circle cx="628.6" cy="55.8" r="1.73"/>
<circle cx="632.8" cy="55.8" r="1.79"/>
<circle cx="637.0" cy="55.8" r="1.98"/>
<circle cx="641.2" cy="55.8" r="1.87"/>
<circle cx="645.4" cy="55.8" r="1.43"/>
<circle cx="649.6" cy="55.8" r="1.58"/>
<circle cx="653.8" cy="55.8" r="2.04"/>
<circle cx="658.0" cy="55.8" r="1.56"/>
<circle cx="662.2" cy="55.8" r="2.09"/>
<circle cx="666.4" cy="55.8" r="1.71"/>
<circle cx="670.6" cy="55.8" r="1.43"/>
<circle cx="674.8" cy="55.8" r="1.94"/>
<circle cx="485.8" cy="60.0" r="2.03"/>
<circle cx="490.0" cy="60.0" r="1.46"/>
<circle cx="494.2" cy="60.0" r="1.94"/>
<circle cx="498.4" cy="60.0" r="2.11"/>
<circle cx="502.6" cy="60.0" r="1.66"/>
<circle cx="506.8" cy="60.0" r="2.09"/>
<circle cx="511.0" cy="60.0" r="1.72"/>
<circle cx="515.2" cy="60.0" r="1.46"/>
<circle cx="519.4" cy="60.0" r="2.02"/>
<circle cx="523.6" cy="60.0" r="1.96"/>
<circle cx="527.8" cy="60.0" r="1.46"/>
<circle cx="532.0" cy="60.0" r="2.13"/>
<circle cx="536.2" cy="60.0" r="1.92"/>
<circle cx="540.4" cy="60.0" r="1.45"/>
<circle cx="544.6" cy="60.0" r="1.21"/>
<circle cx="548.8" cy="60.0" r="1.53"/>
<circle cx="553.0" cy="60.0" r="1.89"/>
<circle cx="557.2" cy="60.0" r="1.92"/>
<circle cx="561.4" cy="60.0" r="1.78"/>
<circle cx="565.6" cy="60.0" r="2.09"/>
<circle cx="569.8" cy="60.0" r="2.11"/>
<circle cx="574.0" cy="60.0" r="1.86"/>
<circle cx="578.2" cy="60.0" r="2.09"/>
<circle cx="582.4" cy="60.0" r="2.15"/>
<circle cx="586.6" cy="60.0" r="2.01"/>
<circle cx="590.8" cy="60.0" r="1.81"/>
<circle cx="595.0" cy="60.0" r="1.90"/>
<circle cx="599.2" cy="60.0" r="2.13"/>
<circle cx="603.4" cy="60.0" r="2.10"/>
<circle cx="607.6" cy="60.0" r="2.16"/>
<circle cx="611.8" cy="60.0" r="2.06"/>
<circle cx="616.0" cy="60.0" r="1.26"/>
<circle cx="620.2" cy="60.0" r="1.59"/>
<circle cx="624.4" cy="60.0" r="1.84"/>
<circle cx="628.6" cy="60.0" r="2.14"/>
<circle cx="632.8" cy="60.0" r="1.75"/>
<circle cx="637.0" cy="60.0" r="1.84"/>
<circle cx="641.2" cy="60.0" r="1.91"/>
<circle cx="645.4" cy="60.0" r="1.53"/>
<circle cx="649.6" cy="60.0" r="1.64"/>
<circle cx="653.8" cy="60.0" r="1.97"/>
<circle cx="658.0" cy="60.0" r="1.07"/>
<circle cx="662.2" cy="60.0" r="2.10"/>
<circle cx="666.4" cy="60.0" r="1.87"/>
<circle cx="670.6" cy="60.0" r="1.32"/>
<circle cx="674.8" cy="60.0" r="1.98"/>
<circle cx="485.8" cy="64.2" r="1.96"/>
<circle cx="490.0" cy="64.2" r="1.46"/>
<circle cx="494.2" cy="64.2" r="1.87"/>
<circle cx="498.4" cy="64.2" r="1.77"/>
<circle cx="502.6" cy="64.2" r="1.82"/>
<circle cx="506.8" cy="64.2" r="1.90"/>
<circle cx="511.0" cy="64.2" r="1.51"/>
<circle cx="515.2" cy="64.2" r="1.57"/>
<circle cx="519.4" cy="64.2" r="2.07"/>
<circle cx="523.6" cy="64.2" r="1.75"/>
<circle cx="527.8" cy="64.2" r="1.95"/>
<circle cx="532.0" cy="64.2" r="2.04"/>
<circle cx="536.2" cy="64.2" r="1.55"/>
<circle cx="540.4" cy="64.2" r="1.16"/>
<circle cx="544.6" cy="64.2" r="1.85"/>
<circle cx="548.8" cy="64.2" r="2.04"/>
<circle cx="553.0" cy="64.2" r="2.11"/>
<circle cx="557.2" cy="64.2" r="1.83"/>
<circle cx="561.4" cy="64.2" r="2.12"/>
<circle cx="565.6" cy="64.2" r="1.82"/>
<circle cx="569.8" cy="64.2" r="1.97"/>
<circle cx="574.0" cy="64.2" r="1.89"/>
<circle cx="578.2" cy="64.2" r="1.79"/>
<circle cx="582.4" cy="64.2" r="1.56"/>
<circle cx="586.6" cy="64.2" r="1.95"/>
<circle cx="590.8" cy="64.2" r="1.90"/>
<circle cx="595.0" cy="64.2" r="2.03"/>
<circle cx="599.2" cy="64.2" r="1.84"/>
<circle cx="603.4" cy="64.2" r="2.12"/>
<circle cx="607.6" cy="64.2" r="1.80"/>
<circle cx="611.8" cy="64.2" r="1.71"/>
<circle cx="616.0" cy="64.2" r="1.97"/>
<circle cx="620.2" cy="64.2" r="1.10"/>
<circle cx="624.4" cy="64.2" r="1.81"/>
<circle cx="628.6" cy="64.2" r="1.95"/>
<circle cx="632.8" cy="64.2" r="1.70"/>
<circle cx="637.0" cy="64.2" r="1.78"/>
<circle cx="641.2" cy="64.2" r="1.83"/>
<circle cx="645.4" cy="64.2" r="1.93"/>
<circle cx="649.6" cy="64.2" r="1.27"/>
<circle cx="653.8" cy="64.2" r="1.80"/>
<circle cx="658.0" cy="64.2" r="1.35"/>
<circle cx="662.2" cy="64.2" r="1.87"/>
<circle cx="666.4" cy="64.2" r="1.90"/>
<circle cx="670.6" cy="64.2" r="1.31"/>
<circle cx="674.8" cy="64.2" r="1.91"/>
<circle cx="485.8" cy="68.4" r="1.94"/>
<circle cx="490.0" cy="68.4" r="1.43"/>
<circle cx="494.2" cy="68.4" r="1.92"/>
<circle cx="498.4" cy="68.4" r="1.99"/>
<circle cx="502.6" cy="68.4" r="1.83"/>
<circle cx="506.8" cy="68.4" r="1.70"/>
<circle cx="511.0" cy="68.4" r="1.29"/>
<circle cx="515.2" cy="68.4" r="1.83"/>
<circle cx="519.4" cy="68.4" r="1.58"/>
<circle cx="523.6" cy="68.4" r="1.66"/>
<circle cx="527.8" cy="68.4" r="2.00"/>
<circle cx="532.0" cy="68.4" r="1.61"/>
<circle cx="536.2" cy="68.4" r="1.47"/>
<circle cx="540.4" cy="68.4" r="1.58"/>
<circle cx="544.6" cy="68.4" r="1.64"/>
<circle cx="548.8" cy="68.4" r="2.14"/>
<circle cx="553.0" cy="68.4" r="2.11"/>
<circle cx="557.2" cy="68.4" r="1.83"/>
<circle cx="561.4" cy="68.4" r="1.67"/>
<circle cx="565.6" cy="68.4" r="1.45"/>
<circle cx="569.8" cy="68.4" r="1.75"/>
<circle cx="574.0" cy="68.4" r="1.69"/>
<circle cx="578.2" cy="68.4" r="1.71"/>
<circle cx="582.4" cy="68.4" r="1.44"/>
<circle cx="586.6" cy="68.4" r="1.68"/>
<circle cx="590.8" cy="68.4" r="1.66"/>
<circle cx="595.0" cy="68.4" r="1.75"/>
<circle cx="599.2" cy="68.4" r="1.86"/>
<circle cx="603.4" cy="68.4" r="1.88"/>
<circle cx="607.6" cy="68.4" r="2.01"/>
<circle cx="611.8" cy="68.4" r="1.78"/>
<circle cx="616.0" cy="68.4" r="2.16"/>
<circle cx="620.2" cy="68.4" r="1.68"/>
<circle cx="624.4" cy="68.4" r="1.24"/>
<circle cx="628.6" cy="68.4" r="2.08"/>
<circle cx="632.8" cy="68.4" r="2.04"/>
<circle cx="637.0" cy="68.4" r="1.79"/>
<circle cx="641.2" cy="68.4" r="2.14"/>
<circle cx="645.4" cy="68.4" r="1.68"/>
<circle cx="649.6" cy="68.4" r="1.32"/>
<circle cx="653.8" cy="68.4" r="2.06"/>
<circle cx="658.0" cy="68.4" r="1.88"/>
<circle cx="662.2" cy="68.4" r="1.97"/>
<circle cx="666.4" cy="68.4" r="1.88"/>
<circle cx="670.6" cy="68.4" r="1.55"/>
<circle cx="674.8" cy="68.4" r="1.89"/>
<circle cx="485.8" cy="72.6" r="1.79"/>
<circle cx="490.0" cy="72.6" r="1.47"/>
<circle cx="494.2" cy="72.6" r="1.95"/>
<circle cx="498.4" cy="72.6" r="1.60"/>
<circle cx="502.6" cy="72.6" r="1.93"/>
<circle cx="506.8" cy="72.6" r="1.83"/>
<circle cx="511.0" cy="72.6" r="1.37"/>
<circle cx="515.2" cy="72.6" r="1.99"/>
<circle cx="519.4" cy="72.6" r="2.11"/>
<circle cx="523.6" cy="72.6" r="1.56"/>
<circle cx="527.8" cy="72.6" r="2.07"/>
<circle cx="532.0" cy="72.6" r="1.95"/>
<circle cx="536.2" cy="72.6" r="1.43"/>
<circle cx="540.4" cy="72.6" r="1.97"/>
<circle cx="544.6" cy="72.6" r="2.02"/>
<circle cx="548.8" cy="72.6" r="2.16"/>
<circle cx="553.0" cy="72.6" r="2.00"/>
<circle cx="557.2" cy="72.6" r="1.62"/>
<circle cx="561.4" cy="72.6" r="1.89"/>
<circle cx="565.6" cy="72.6" r="1.97"/>
<circle cx="569.8" cy="72.6" r="1.77"/>
<circle cx="574.0" cy="72.6" r="2.05"/>
<circle cx="578.2" cy="72.6" r="2.10"/>
<circle cx="582.4" cy="72.6" r="2.15"/>
<circle cx="586.6" cy="72.6" r="2.05"/>
<circle cx="590.8" cy="72.6" r="1.94"/>
<circle cx="595.0" cy="72.6" r="2.03"/>
<circle cx="599.2" cy="72.6" r="1.86"/>
<circle cx="603.4" cy="72.6" r="1.80"/>
<circle cx="607.6" cy="72.6" r="2.07"/>
<circle cx="611.8" cy="72.6" r="2.06"/>
<circle cx="616.0" cy="72.6" r="2.09"/>
<circle cx="620.2" cy="72.6" r="2.03"/>
<circle cx="624.4" cy="72.6" r="1.32"/>
<circle cx="628.6" cy="72.6" r="1.87"/>
<circle cx="632.8" cy="72.6" r="1.95"/>
<circle cx="637.0" cy="72.6" r="1.61"/>
<circle cx="641.2" cy="72.6" r="2.08"/>
<circle cx="645.4" cy="72.6" r="2.05"/>
<circle cx="649.6" cy="72.6" r="1.21"/>
<circle cx="653.8" cy="72.6" r="1.90"/>
<circle cx="658.0" cy="72.6" r="1.40"/>
<circle cx="662.2" cy="72.6" r="1.90"/>
<circle cx="666.4" cy="72.6" r="2.04"/>
<circle cx="670.6" cy="72.6" r="1.36"/>
<circle cx="674.8" cy="72.6" r="2.08"/>
<circle cx="485.8" cy="76.8" r="1.82"/>
<circle cx="490.0" cy="76.8" r="1.23"/>
<circle cx="494.2" cy="76.8" r="1.96"/>
<circle cx="498.4" cy="76.8" r="1.94"/>
<circle cx="502.6" cy="76.8" r="1.95"/>
<circle cx="506.8" cy="76.8" r="2.02"/>
<circle cx="511.0" cy="76.8" r="1.34"/>
<circle cx="515.2" cy="76.8" r="2.07"/>
<circle cx="519.4" cy="76.8" r="1.84"/>
<circle cx="523.6" cy="76.8" r="1.56"/>
<circle cx="527.8" cy="76.8" r="2.15"/>
<circle cx="532.0" cy="76.8" r="1.56"/>
<circle cx="536.2" cy="76.8" r="1.45"/>
<circle cx="540.4" cy="76.8" r="2.04"/>
<circle cx="544.6" cy="76.8" r="2.01"/>
<circle cx="548.8" cy="76.8" r="1.98"/>
<circle cx="553.0" cy="76.8" r="1.92"/>
<circle cx="557.2" cy="76.8" r="1.53"/>
<circle cx="561.4" cy="76.8" r="1.68"/>
<circle cx="565.6" cy="76.8" r="1.75"/>
<circle cx="569.8" cy="76.8" r="2.00"/>
<circle cx="574.0" cy="76.8" r="1.69"/>
<circle cx="578.2" cy="76.8" r="2.04"/>
<circle cx="582.4" cy="76.8" r="2.12"/>
<circle cx="586.6" cy="76.8" r="1.80"/>
<circle cx="590.8" cy="76.8" r="2.06"/>
<circle cx="595.0" cy="76.8" r="2.07"/>
<circle cx="599.2" cy="76.8" r="2.14"/>
<circle cx="603.4" cy="76.8" r="1.43"/>
<circle cx="607.6" cy="76.8" r="1.84"/>
<circle cx="611.8" cy="76.8" r="2.12"/>
<circle cx="616.0" cy="76.8" r="1.95"/>
<circle cx="620.2" cy="76.8" r="1.63"/>
<circle cx="624.4" cy="76.8" r="1.41"/>
<circle cx="628.6" cy="76.8" r="1.87"/>
<circle cx="632.8" cy="76.8" r="2.05"/>
<circle cx="637.0" cy="76.8" r="1.79"/>
<circle cx="641.2" cy="76.8" r="1.83"/>
<circle cx="645.4" cy="76.8" r="1.77"/>
<circle cx="649.6" cy="76.8" r="1.22"/>
<circle cx="653.8" cy="76.8" r="1.55"/>
<circle cx="658.0" cy="76.8" r="1.81"/>
<circle cx="662.2" cy="76.8" r="1.97"/>
<circle cx="666.4" cy="76.8" r="1.98"/>
<circle cx="670.6" cy="76.8" r="1.40"/>
<circle cx="674.8" cy="76.8" r="1.92"/>
<circle cx="485.8" cy="81.0" r="1.82"/>
<circle cx="490.0" cy="81.0" r="1.51"/>
<circle cx="494.2" cy="81.0" r="2.02"/>
<circle cx="498.4" cy="81.0" r="1.61"/>
<circle cx="502.6" cy="81.0" r="1.90"/>
<circle cx="506.8" cy="81.0" r="1.84"/>
<circle cx="511.0" cy="81.0" r="1.38"/>
<circle cx="515.2" cy="81.0" r="1.84"/>
<circle cx="519.4" cy="81.0" r="1.96"/>
<circle cx="523.6" cy="81.0" r="1.79"/>
<circle cx="527.8" cy="81.0" r="1.99"/>
<circle cx="532.0" cy="81.0" r="1.50"/>
<circle cx="536.2" cy="81.0" r="1.36"/>
<circle cx="540.4" cy="81.0" r="1.98"/>
<circle cx="544.6" cy="81.0" r="1.74"/>
<circle cx="548.8" cy="81.0" r="2.02"/>
<circle cx="553.0" cy="81.0" r="1.72"/>
<circle cx="557.2" cy="81.0" r="1.92"/>
<circle cx="561.4" cy="81.0" r="1.99"/>
<circle cx="565.6" cy="81.0" r="2.01"/>
<circle cx="569.8" cy="81.0" r="2.14"/>
<circle cx="574.0" cy="81.0" r="2.05"/>
<circle cx="578.2" cy="81.0" r="1.87"/>
<circle cx="582.4" cy="81.0" r="1.92"/>
<circle cx="586.6" cy="81.0" r="1.86"/>
<circle cx="590.8" cy="81.0" r="1.53"/>
<circle cx="595.0" cy="81.0" r="2.09"/>
<circle cx="599.2" cy="81.0" r="2.04"/>
<circle cx="603.4" cy="81.0" r="1.91"/>
<circle cx="607.6" cy="81.0" r="1.79"/>
<circle cx="611.8" cy="81.0" r="1.95"/>
<circle cx="616.0" cy="81.0" r="1.99"/>
<circle cx="620.2" cy="81.0" r="2.03"/>
<circle cx="624.4" cy="81.0" r="1.60"/>
<circle cx="628.6" cy="81.0" r="1.52"/>
<circle cx="632.8" cy="81.0" r="2.09"/>
<circle cx="637.0" cy="81.0" r="1.48"/>
<circle cx="641.2" cy="81.0" r="1.80"/>
<circle cx="645.4" cy="81.0" r="2.10"/>
<circle cx="649.6" cy="81.0" r="1.33"/>
<circle cx="653.8" cy="81.0" r="1.95"/>
<circle cx="658.0" cy="81.0" r="1.96"/>
<circle cx="662.2" cy="81.0" r="1.65"/>
<circle cx="666.4" cy="81.0" r="2.06"/>
<circle cx="670.6" cy="81.0" r="1.56"/>
<circle cx="674.8" cy="81.0" r="2.01"/>
<circle cx="485.8" cy="85.2" r="1.86"/>
<circle cx="490.0" cy="85.2" r="1.13"/>
<circle cx="494.2" cy="85.2" r="1.81"/>
<circle cx="498.4" cy="85.2" r="1.87"/>
<circle cx="502.6" cy="85.2" r="1.80"/>
<circle cx="506.8" cy="85.2" r="1.87"/>
<circle cx="511.0" cy="85.2" r="1.29"/>
<circle cx="515.2" cy="85.2" r="2.13"/>
<circle cx="519.4" cy="85.2" r="1.95"/>
<circle cx="523.6" cy="85.2" r="1.83"/>
<circle cx="527.8" cy="85.2" r="2.12"/>
<circle cx="532.0" cy="85.2" r="1.81"/>
<circle cx="536.2" cy="85.2" r="1.69"/>
<circle cx="540.4" cy="85.2" r="1.99"/>
<circle cx="544.6" cy="85.2" r="1.75"/>
<circle cx="548.8" cy="85.2" r="1.86"/>
<circle cx="553.0" cy="85.2" r="1.59"/>
<circle cx="557.2" cy="85.2" r="1.92"/>
<circle cx="561.4" cy="85.2" r="2.03"/>
<circle cx="565.6" cy="85.2" r="2.16"/>
<circle cx="569.8" cy="85.2" r="1.87"/>
<circle cx="574.0" cy="85.2" r="1.93"/>
<circle cx="578.2" cy="85.2" r="1.91"/>
<circle cx="582.4" cy="85.2" r="1.91"/>
<circle cx="586.6" cy="85.2" r="1.90"/>
<circle cx="590.8" cy="85.2" r="2.00"/>
<circle cx="595.0" cy="85.2" r="2.07"/>
<circle cx="599.2" cy="85.2" r="2.15"/>
<circle cx="603.4" cy="85.2" r="1.71"/>
<circle cx="607.6" cy="85.2" r="1.78"/>
<circle cx="611.8" cy="85.2" r="1.67"/>
<circle cx="616.0" cy="85.2" r="2.04"/>
<circle cx="620.2" cy="85.2" r="2.02"/>
<circle cx="624.4" cy="85.2" r="1.47"/>
<circle cx="628.6" cy="85.2" r="1.83"/>
<circle cx="632.8" cy="85.2" r="2.05"/>
<circle cx="637.0" cy="85.2" r="1.48"/>
<circle cx="641.2" cy="85.2" r="1.90"/>
<circle cx="645.4" cy="85.2" r="1.95"/>
<circle cx="649.6" cy="85.2" r="1.40"/>
<circle cx="653.8" cy="85.2" r="1.91"/>
<circle cx="658.0" cy="85.2" r="1.89"/>
<circle cx="662.2" cy="85.2" r="1.75"/>
<circle cx="666.4" cy="85.2" r="1.86"/>
<circle cx="670.6" cy="85.2" r="1.32"/>
<circle cx="674.8" cy="85.2" r="2.01"/>
<circle cx="485.8" cy="89.4" r="1.88"/>
<circle cx="490.0" cy="89.4" r="1.31"/>
<circle cx="494.2" cy="89.4" r="1.98"/>
<circle cx="498.4" cy="89.4" r="1.77"/>
<circle cx="502.6" cy="89.4" r="1.89"/>
<circle cx="506.8" cy="89.4" r="1.84"/>
<circle cx="511.0" cy="89.4" r="1.53"/>
<circle cx="515.2" cy="89.4" r="1.84"/>
<circle cx="519.4" cy="89.4" r="1.97"/>
<circle cx="523.6" cy="89.4" r="1.81"/>
<circle cx="527.8" cy="89.4" r="1.93"/>
<circle cx="532.0" cy="89.4" r="1.82"/>
<circle cx="536.2" cy="89.4" r="1.48"/>
<circle cx="540.4" cy="89.4" r="1.91"/>
<circle cx="544.6" cy="89.4" r="1.93"/>
<circle cx="548.8" cy="89.4" r="2.07"/>
<circle cx="553.0" cy="89.4" r="1.74"/>
<circle cx="557.2" cy="89.4" r="2.06"/>
<circle cx="561.4" cy="89.4" r="2.03"/>
<circle cx="565.6" cy="89.4" r="1.59"/>
<circle cx="569.8" cy="89.4" r="1.83"/>
<circle cx="574.0" cy="89.4" r="1.78"/>
<circle cx="578.2" cy="89.4" r="1.84"/>
<circle cx="582.4" cy="89.4" r="1.78"/>
<circle cx="586.6" cy="89.4" r="2.13"/>
<circle cx="590.8" cy="89.4" r="2.07"/>
<circle cx="595.0" cy="89.4" r="1.87"/>
<circle cx="599.2" cy="89.4" r="1.76"/>
<circle cx="603.4" cy="89.4" r="1.99"/>
<circle cx="607.6" cy="89.4" r="1.82"/>
<circle cx="611.8" cy="89.4" r="1.96"/>
<circle cx="616.0" cy="89.4" r="2.06"/>
<circle cx="620.2" cy="89.4" r="2.02"/>
<circle cx="624.4" cy="89.4" r="1.57"/>
<circle cx="628.6" cy="89.4" r="1.61"/>
<circle cx="632.8" cy="89.4" r="1.94"/>
<circle cx="637.0" cy="89.4" r="1.60"/>
<circle cx="641.2" cy="89.4" r="2.03"/>
<circle cx="645.4" cy="89.4" r="1.96"/>
<circle cx="649.6" cy="89.4" r="1.16"/>
<circle cx="653.8" cy="89.4" r="1.87"/>
<circle cx="658.0" cy="89.4" r="1.78"/>
<circle cx="662.2" cy="89.4" r="1.84"/>
<circle cx="666.4" cy="89.4" r="1.89"/>
<circle cx="670.6" cy="89.4" r="1.42"/>
<circle cx="674.8" cy="89.4" r="2.02"/>
<circle cx="485.8" cy="93.6" r="2.01"/>
<circle cx="490.0" cy="93.6" r="1.29"/>
<circle cx="494.2" cy="93.6" r="2.05"/>
<circle cx="498.4" cy="93.6" r="1.80"/>
<circle cx="502.6" cy="93.6" r="1.65"/>
<circle cx="506.8" cy="93.6" r="1.54"/>
<circle cx="511.0" cy="93.6" r="1.22"/>
<circle cx="515.2" cy="93.6" r="1.93"/>
<circle cx="519.4" cy="93.6" r="1.78"/>
<circle cx="523.6" cy="93.6" r="1.51"/>
<circle cx="527.8" cy="93.6" r="2.06"/>
<circle cx="532.0" cy="93.6" r="1.73"/>
<circle cx="536.2" cy="93.6" r="1.72"/>
<circle cx="540.4" cy="93.6" r="1.96"/>
<circle cx="544.6" cy="93.6" r="2.09"/>
<circle cx="548.8" cy="93.6" r="2.06"/>
<circle cx="553.0" cy="93.6" r="1.71"/>
<circle cx="557.2" cy="93.6" r="1.94"/>
<circle cx="561.4" cy="93.6" r="1.74"/>
<circle cx="565.6" cy="93.6" r="1.76"/>
<circle cx="569.8" cy="93.6" r="2.12"/>
<circle cx="574.0" cy="93.6" r="2.12"/>
<circle cx="578.2" cy="93.6" r="1.59"/>
<circle cx="582.4" cy="93.6" r="2.02"/>
<circle cx="586.6" cy="93.6" r="2.07"/>
<circle cx="590.8" cy="93.6" r="1.91"/>
<circle cx="595.0" cy="93.6" r="1.99"/>
<circle cx="599.2" cy="93.6" r="1.99"/>
<circle cx="603.4" cy="93.6" r="2.05"/>
<circle cx="607.6" cy="93.6" r="1.50"/>
<circle cx="611.8" cy="93.6" r="1.97"/>
<circle cx="616.0" cy="93.6" r="2.16"/>
<circle cx="620.2" cy="93.6" r="1.80"/>
<circle cx="624.4" cy="93.6" r="1.53"/>
<circle cx="628.6" cy="93.6" r="1.81"/>
<circle cx="632.8" cy="93.6" r="1.85"/>
<circle cx="637.0" cy="93.6" r="1.57"/>
<circle cx="641.2" cy="93.6" r="1.84"/>
<circle cx="645.4" cy="93.6" r="1.80"/>
<circle cx="649.6" cy="93.6" r="1.39"/>
<circle cx="653.8" cy="93.6" r="1.78"/>
<circle cx="658.0" cy="93.6" r="1.80"/>
<circle cx="662.2" cy="93.6" r="1.71"/>
<circle cx="666.4" cy="93.6" r="1.85"/>
<circle cx="670.6" cy="93.6" r="1.59"/>
<circle cx="674.8" cy="93.6" r="1.93"/>
<circle cx="485.8" cy="97.8" r="1.76"/>
<circle cx="490.0" cy="97.8" r="1.52"/>
<circle cx="494.2" cy="97.8" r="2.09"/>
<circle cx="498.4" cy="97.8" r="1.77"/>
<circle cx="502.6" cy="97.8" r="1.73"/>
<circle cx="506.8" cy="97.8" r="1.76"/>
<circle cx="511.0" cy="97.8" r="1.44"/>
<circle cx="515.2" cy="97.8" r="2.01"/>
<circle cx="519.4" cy="97.8" r="1.76"/>
<circle cx="523.6" cy="97.8" r="1.27"/>
<circle cx="527.8" cy="97.8" r="1.85"/>
<circle cx="532.0" cy="97.8" r="1.79"/>
<circle cx="536.2" cy="97.8" r="1.37"/>
<circle cx="540.4" cy="97.8" r="2.07"/>
<circle cx="544.6" cy="97.8" r="1.97"/>
<circle cx="548.8" cy="97.8" r="2.09"/>
<circle cx="553.0" cy="97.8" r="1.54"/>
<circle cx="557.2" cy="97.8" r="2.15"/>
<circle cx="561.4" cy="97.8" r="1.59"/>
<circle cx="565.6" cy="97.8" r="2.01"/>
<circle cx="569.8" cy="97.8" r="1.78"/>
<circle cx="574.0" cy="97.8" r="1.94"/>
<circle cx="578.2" cy="97.8" r="1.89"/>
<circle cx="582.4" cy="97.8" r="1.72"/>
<circle cx="586.6" cy="97.8" r="1.87"/>
<circle cx="590.8" cy="97.8" r="1.93"/>
<circle cx="595.0" cy="97.8" r="2.03"/>
<circle cx="599.2" cy="97.8" r="2.16"/>
<circle cx="603.4" cy="97.8" r="2.08"/>
<circle cx="607.6" cy="97.8" r="1.46"/>
<circle cx="611.8" cy="97.8" r="2.05"/>
<circle cx="616.0" cy="97.8" r="1.94"/>
<circle cx="620.2" cy="97.8" r="1.94"/>
<circle cx="624.4" cy="97.8" r="1.72"/>
<circle cx="628.6" cy="97.8" r="1.68"/>
<circle cx="632.8" cy="97.8" r="1.95"/>
<circle cx="637.0" cy="97.8" r="1.54"/>
<circle cx="641.2" cy="97.8" r="1.63"/>
<circle cx="645.4" cy="97.8" r="2.07"/>
<circle cx="649.6" cy="97.8" r="1.48"/>
<circle cx="653.8" cy="97.8" r="1.66"/>
<circle cx="658.0" cy="97.8" r="1.60"/>
<circle cx="662.2" cy="97.8" r="1.56"/>
<circle cx="666.4" cy="97.8" r="1.56"/>
<circle cx="670.6" cy="97.8" r="1.55"/>
<circle cx="674.8" cy="97.8" r="1.23"/>
<circle cx="485.8" cy="102.0" r="1.87"/>
<circle cx="490.0" cy="102.0" r="1.59"/>
<circle cx="494.2" cy="102.0" r="2.13"/>
<circle cx="498.4" cy="102.0" r="1.91"/>
<circle cx="502.6" cy="102.0" r="1.66"/>
<circle cx="506.8" cy="102.0" r="1.96"/>
<circle cx="511.0" cy="102.0" r="1.28"/>
<circle cx="515.2" cy="102.0" r="2.01"/>
<circle cx="519.4" cy="102.0" r="1.96"/>
<circle cx="523.6" cy="102.0" r="1.76"/>
<circle cx="527.8" cy="102.0" r="2.14"/>
<circle cx="532.0" cy="102.0" r="1.56"/>
<circle cx="536.2" cy="102.0" r="1.56"/>
<circle cx="540.4" cy="102.0" r="1.99"/>
<circle cx="544.6" cy="102.0" r="2.14"/>
<circle cx="548.8" cy="102.0" r="1.92"/>
<circle cx="553.0" cy="102.0" r="1.60"/>
<circle cx="557.2" cy="102.0" r="1.84"/>
<circle cx="561.4" cy="102.0" r="2.14"/>
<circle cx="565.6" cy="102.0" r="2.07"/>
<circle cx="569.8" cy="102.0" r="1.95"/>
<circle cx="574.0" cy="102.0" r="2.10"/>
<circle cx="578.2" cy="102.0" r="1.97"/>
<circle cx="582.4" cy="102.0" r="2.07"/>
<circle cx="586.6" cy="102.0" r="2.12"/>
<circle cx="590.8" cy="102.0" r="2.09"/>
<circle cx="595.0" cy="102.0" r="2.10"/>
<circle cx="599.2" cy="102.0" r="1.62"/>
<circle cx="603.4" cy="102.0" r="2.03"/>
<circle cx="607.6" cy="102.0" r="1.77"/>
<circle cx="611.8" cy="102.0" r="1.80"/>
<circle cx="616.0" cy="102.0" r="2.06"/>
<circle cx="620.2" cy="102.0" r="1.88"/>
<circle cx="624.4" cy="102.0" r="1.44"/>
<circle cx="628.6" cy="102.0" r="1.68"/>
<circle cx="632.8" cy="102.0" r="2.10"/>
<circle cx="637.0" cy="102.0" r="1.56"/>
<circle cx="641.2" cy="102.0" r="2.03"/>
<circle cx="645.4" cy="102.0" r="1.91"/>
<circle cx="649.6" cy="102.0" r="1.30"/>
<circle cx="653.8" cy="102.0" r="1.69"/>
<circle cx="658.0" cy="102.0" r="1.73"/>
<circle cx="662.2" cy="102.0" r="1.83"/>
<circle cx="666.4" cy="102.0" r="1.95"/>
<circle cx="670.6" cy="102.0" r="1.56"/>
<circle cx="674.8" cy="102.0" r="2.01"/>
<circle cx="485.8" cy="106.2" r="1.98"/>
<circle cx="490.0" cy="106.2" r="1.57"/>
<circle cx="494.2" cy="106.2" r="2.09"/>
<circle cx="498.4" cy="106.2" r="1.90"/>
<circle cx="502.6" cy="106.2" r="1.64"/>
<circle cx="506.8" cy="106.2" r="1.54"/>
<circle cx="511.0" cy="106.2" r="1.20"/>
<circle cx="515.2" cy="106.2" r="1.76"/>
<circle cx="519.4" cy="106.2" r="1.89"/>
<circle cx="523.6" cy="106.2" r="1.44"/>
<circle cx="527.8" cy="106.2" r="2.03"/>
<circle cx="532.0" cy="106.2" r="1.83"/>
<circle cx="536.2" cy="106.2" r="1.66"/>
<circle cx="540.4" cy="106.2" r="2.00"/>
<circle cx="544.6" cy="106.2" r="2.14"/>
<circle cx="548.8" cy="106.2" r="2.07"/>
<circle cx="553.0" cy="106.2" r="1.73"/>
<circle cx="557.2" cy="106.2" r="1.96"/>
<circle cx="561.4" cy="106.2" r="2.02"/>
<circle cx="565.6" cy="106.2" r="1.81"/>
<circle cx="569.8" cy="106.2" r="1.87"/>
<circle cx="574.0" cy="106.2" r="1.41"/>
<circle cx="578.2" cy="106.2" r="2.03"/>
<circle cx="582.4" cy="106.2" r="1.88"/>
<circle cx="586.6" cy="106.2" r="1.98"/>
<circle cx="590.8" cy="106.2" r="1.81"/>
<circle cx="595.0" cy="106.2" r="1.72"/>
<circle cx="599.2" cy="106.2" r="1.79"/>
<circle cx="603.4" cy="106.2" r="1.64"/>
<circle cx="607.6" cy="106.2" r="1.70"/>
<circle cx="611.8" cy="106.2" r="2.11"/>
<circle cx="616.0" cy="106.2" r="2.07"/>
<circle cx="620.2" cy="106.2" r="1.62"/>
<circle cx="624.4" cy="106.2" r="1.50"/>
<circle cx="628.6" cy="106.2" r="1.30"/>
<circle cx="632.8" cy="106.2" r="1.87"/>
<circle cx="637.0" cy="106.2" r="1.82"/>
<circle cx="641.2" cy="106.2" r="1.65"/>
<circle cx="645.4" cy="106.2" r="1.95"/>
<circle cx="649.6" cy="106.2" r="1.24"/>
<circle cx="653.8" cy="106.2" r="1.99"/>
<circle cx="658.0" cy="106.2" r="1.93"/>
<circle cx="662.2" cy="106.2" r="1.79"/>
<circle cx="666.4" cy="106.2" r="1.98"/>
<circle cx="670.6" cy="106.2" r="1.34"/>
<circle cx="674.8" cy="106.2" r="2.00"/>
<circle cx="485.8" cy="110.4" r="1.92"/>
<circle cx="490.0" cy="110.4" r="1.55"/>
<circle cx="494.2" cy="110.4" r="1.66"/>
<circle cx="498.4" cy="110.4" r="1.93"/>
<circle cx="502.6" cy="110.4" r="1.70"/>
<circle cx="506.8" cy="110.4" r="2.02"/>
<circle cx="511.0" cy="110.4" r="1.34"/>
<circle cx="515.2" cy="110.4" r="2.13"/>
<circle cx="519.4" cy="110.4" r="2.03"/>
<circle cx="523.6" cy="110.4" r="1.84"/>
<circle cx="527.8" cy="110.4" r="2.14"/>
<circle cx="532.0" cy="110.4" r="1.76"/>
<circle cx="536.2" cy="110.4" r="1.56"/>
<circle cx="540.4" cy="110.4" r="1.90"/>
<circle cx="544.6" cy="110.4" r="2.02"/>
<circle cx="548.8" cy="110.4" r="2.13"/>
<circle cx="553.0" cy="110.4" r="1.80"/>
<circle cx="557.2" cy="110.4" r="1.77"/>
<circle cx="561.4" cy="110.4" r="1.91"/>
<circle cx="565.6" cy="110.4" r="2.00"/>
<circle cx="569.8" cy="110.4" r="2.16"/>
<circle cx="574.0" cy="110.4" r="1.81"/>
<circle cx="578.2" cy="110.4" r="1.94"/>
<circle cx="582.4" cy="110.4" r="2.16"/>
<circle cx="586.6" cy="110.4" r="2.02"/>
<circle cx="590.8" cy="110.4" r="1.94"/>
<circle cx="595.0" cy="110.4" r="2.10"/>
<circle cx="599.2" cy="110.4" r="1.84"/>
<circle cx="603.4" cy="110.4" r="1.99"/>
<circle cx="607.6" cy="110.4" r="1.78"/>
<circle cx="611.8" cy="110.4" r="2.04"/>
<circle cx="616.0" cy="110.4" r="2.14"/>
<circle cx="620.2" cy="110.4" r="1.99"/>
<circle cx="624.4" cy="110.4" r="1.50"/>
<circle cx="628.6" cy="110.4" r="1.68"/>
<circle cx="632.8" cy="110.4" r="2.05"/>
<circle cx="637.0" cy="110.4" r="1.61"/>
<circle cx="641.2" cy="110.4" r="1.94"/>
<circle cx="645.4" cy="110.4" r="2.12"/>
<circle cx="649.6" cy="110.4" r="1.06"/>
<circle cx="653.8" cy="110.4" r="1.96"/>
<circle cx="658.0" cy="110.4" r="1.68"/>
<circle cx="662.2" cy="110.4" r="1.58"/>
<circle cx="666.4" cy="110.4" r="1.89"/>
<circle cx="670.6" cy="110.4" r="1.31"/>
<circle cx="674.8" cy="110.4" r="2.01"/>
<circle cx="485.8" cy="114.6" r="1.98"/>
<circle cx="490.0" cy="114.6" r="1.53"/>
<circle cx="494.2" cy="114.6" r="1.96"/>
<circle cx="498.4" cy="114.6" r="1.59"/>
<circle cx="502.6" cy="114.6" r="1.87"/>
<circle cx="506.8" cy="114.6" r="1.95"/>
<circle cx="511.0" cy="114.6" r="1.40"/>
<circle cx="515.2" cy="114.6" r="1.66"/>
<circle cx="519.4" cy="114.6" r="1.87"/>
<circle cx="523.6" cy="114.6" r="1.75"/>
<circle cx="527.8" cy="114.6" r="2.15"/>
<circle cx="532.0" cy="114.6" r="1.84"/>
<circle cx="536.2" cy="114.6" r="1.36"/>
<circle cx="540.4" cy="114.6" r="1.75"/>
<circle cx="544.6" cy="114.6" r="1.95"/>
<circle cx="548.8" cy="114.6" r="2.11"/>
<circle cx="553.0" cy="114.6" r="1.75"/>
<circle cx="557.2" cy="114.6" r="1.82"/>
<circle cx="561.4" cy="114.6" r="1.95"/>
<circle cx="565.6" cy="114.6" r="1.74"/>
<circle cx="569.8" cy="114.6" r="2.14"/>
<circle cx="574.0" cy="114.6" r="2.04"/>
<circle cx="578.2" cy="114.6" r="1.98"/>
<circle cx="582.4" cy="114.6" r="2.06"/>
<circle cx="586.6" cy="114.6" r="1.97"/>
<circle cx="590.8" cy="114.6" r="1.81"/>
<circle cx="595.0" cy="114.6" r="2.05"/>
<circle cx="599.2" cy="114.6" r="1.95"/>
<circle cx="603.4" cy="114.6" r="1.48"/>
<circle cx="607.6" cy="114.6" r="1.83"/>
<circle cx="611.8" cy="114.6" r="2.02"/>
<circle cx="616.0" cy="114.6" r="1.76"/>
<circle cx="620.2" cy="114.6" r="2.05"/>
<circle cx="624.4" cy="114.6" r="1.57"/>
<circle cx="628.6" cy="114.6" r="1.74"/>
<circle cx="632.8" cy="114.6" r="1.84"/>
<circle cx="637.0" cy="114.6" r="1.56"/>
<circle cx="641.2" cy="114.6" r="2.01"/>
<circle cx="645.4" cy="114.6" r="1.83"/>
<circle cx="649.6" cy="114.6" r="1.22"/>
<circle cx="653.8" cy="114.6" r="1.98"/>
<circle cx="658.0" cy="114.6" r="1.84"/>
<circle cx="662.2" cy="114.6" r="1.54"/>
<circle cx="666.4" cy="114.6" r="1.80"/>
<circle cx="670.6" cy="114.6" r="1.33"/>
<circle cx="674.8" cy="114.6" r="1.98"/>
<circle cx="485.8" cy="118.8" r="1.85"/>
<circle cx="490.0" cy="118.8" r="1.13"/>
<circle cx="494.2" cy="118.8" r="2.05"/>
<circle cx="498.4" cy="118.8" r="1.66"/>
<circle cx="502.6" cy="118.8" r="1.54"/>
<circle cx="506.8" cy="118.8" r="1.72"/>
<circle cx="511.0" cy="118.8" r="1.48"/>
<circle cx="515.2" cy="118.8" r="1.69"/>
<circle cx="519.4" cy="118.8" r="1.82"/>
<circle cx="523.6" cy="118.8" r="1.59"/>
<circle cx="527.8" cy="118.8" r="1.68"/>
<circle cx="532.0" cy="118.8" r="1.54"/>
<circle cx="536.2" cy="118.8" r="1.41"/>
<circle cx="540.4" cy="118.8" r="1.81"/>
<circle cx="544.6" cy="118.8" r="2.01"/>
<circle cx="548.8" cy="118.8" r="2.14"/>
<circle cx="553.0" cy="118.8" r="1.93"/>
<circle cx="557.2" cy="118.8" r="1.75"/>
<circle cx="561.4" cy="118.8" r="1.88"/>
<circle cx="565.6" cy="118.8" r="2.07"/>
<circle cx="569.8" cy="118.8" r="1.96"/>
<circle cx="574.0" cy="118.8" r="2.07"/>
<circle cx="578.2" cy="118.8" r="2.08"/>
<circle cx="582.4" cy="118.8" r="2.01"/>
<circle cx="586.6" cy="118.8" r="2.08"/>
<circle cx="590.8" cy="118.8" r="1.87"/>
<circle cx="595.0" cy="118.8" r="2.02"/>
<circle cx="599.2" cy="118.8" r="1.89"/>
<circle cx="603.4" cy="118.8" r="1.54"/>
<circle cx="607.6" cy="118.8" r="1.73"/>
<circle cx="611.8" cy="118.8" r="1.83"/>
<circle cx="616.0" cy="118.8" r="2.13"/>
<circle cx="620.2" cy="118.8" r="1.87"/>
<circle cx="624.4" cy="118.8" r="1.42"/>
<circle cx="628.6" cy="118.8" r="1.87"/>
<circle cx="632.8" cy="118.8" r="1.73"/>
<circle cx="637.0" cy="118.8" r="1.76"/>
<circle cx="641.2" cy="118.8" r="1.68"/>
<circle cx="645.4" cy="118.8" r="1.75"/>
<circle cx="649.6" cy="118.8" r="1.39"/>
<circle cx="653.8" cy="118.8" r="1.70"/>
<circle cx="658.0" cy="118.8" r="1.76"/>
<circle cx="662.2" cy="118.8" r="1.67"/>
<circle cx="666.4" cy="118.8" r="1.76"/>
<circle cx="670.6" cy="118.8" r="1.26"/>
<circle cx="674.8" cy="118.8" r="1.89"/>
<circle cx="485.8" cy="123.0" r="2.06"/>
<circle cx="490.0" cy="123.0" r="1.16"/>
<circle cx="494.2" cy="123.0" r="1.93"/>
<circle cx="498.4" cy="123.0" r="1.94"/>
<circle cx="502.6" cy="123.0" r="1.66"/>
<circle cx="506.8" cy="123.0" r="1.82"/>
<circle cx="511.0" cy="123.0" r="1.21"/>
<circle cx="515.2" cy="123.0" r="1.90"/>
<circle cx="519.4" cy="123.0" r="2.03"/>
<circle cx="523.6" cy="123.0" r="1.67"/>
<circle cx="527.8" cy="123.0" r="1.85"/>
<circle cx="532.0" cy="123.0" r="1.75"/>
<circle cx="536.2" cy="123.0" r="1.56"/>
<circle cx="540.4" cy="123.0" r="1.83"/>
<circle cx="544.6" cy="123.0" r="1.92"/>
<circle cx="548.8" cy="123.0" r="1.91"/>
<circle cx="553.0" cy="123.0" r="2.05"/>
<circle cx="557.2" cy="123.0" r="1.73"/>
<circle cx="561.4" cy="123.0" r="1.85"/>
<circle cx="565.6" cy="123.0" r="1.81"/>
<circle cx="569.8" cy="123.0" r="1.61"/>
<circle cx="574.0" cy="123.0" r="1.58"/>
<circle cx="578.2" cy="123.0" r="1.65"/>
<circle cx="582.4" cy="123.0" r="1.63"/>
<circle cx="586.6" cy="123.0" r="1.75"/>
<circle cx="590.8" cy="123.0" r="1.51"/>
<circle cx="595.0" cy="123.0" r="1.79"/>
<circle cx="599.2" cy="123.0" r="1.81"/>
<circle cx="603.4" cy="123.0" r="2.09"/>
<circle cx="607.6" cy="123.0" r="1.77"/>
<circle cx="611.8" cy="123.0" r="1.88"/>
<circle cx="616.0" cy="123.0" r="1.85"/>
<circle cx="620.2" cy="123.0" r="1.66"/>
<circle cx="624.4" cy="123.0" r="1.38"/>
<circle cx="628.6" cy="123.0" r="1.97"/>
<circle cx="632.8" cy="123.0" r="2.02"/>
<circle cx="637.0" cy="123.0" r="1.57"/>
<circle cx="641.2" cy="123.0" r="2.09"/>
<circle cx="645.4" cy="123.0" r="1.83"/>
<circle cx="649.6" cy="123.0" r="1.47"/>
<circle cx="653.8" cy="123.0" r="2.09"/>
<circle cx="658.0" cy="123.0" r="1.72"/>
<circle cx="662.2" cy="123.0" r="1.97"/>
<circle cx="666.4" cy="123.0" r="2.04"/>
<circle cx="670.6" cy="123.0" r="1.26"/>
<circle cx="674.8" cy="123.0" r="2.05"/>
<circle cx="485.8" cy="127.2" r="1.96"/>
<circle cx="490.0" cy="127.2" r="1.11"/>
<circle cx="494.2" cy="127.2" r="2.00"/>
<circle cx="498.4" cy="127.2" r="2.00"/>
<circle cx="502.6" cy="127.2" r="1.70"/>
<circle cx="506.8" cy="127.2" r="1.62"/>
<circle cx="511.0" cy="127.2" r="1.39"/>
<circle cx="515.2" cy="127.2" r="1.78"/>
<circle cx="519.4" cy="127.2" r="2.00"/>
<circle cx="523.6" cy="127.2" r="1.80"/>
<circle cx="527.8" cy="127.2" r="1.70"/>
<circle cx="532.0" cy="127.2" r="2.14"/>
<circle cx="536.2" cy="127.2" r="1.61"/>
<circle cx="540.4" cy="127.2" r="1.04"/>
<circle cx="544.6" cy="127.2" r="1.97"/>
<circle cx="548.8" cy="127.2" r="2.01"/>
<circle cx="553.0" cy="127.2" r="1.79"/>
<circle cx="557.2" cy="127.2" r="1.88"/>
<circle cx="561.4" cy="127.2" r="2.03"/>
<circle cx="565.6" cy="127.2" r="1.97"/>
<circle cx="569.8" cy="127.2" r="1.98"/>
<circle cx="574.0" cy="127.2" r="2.03"/>
<circle cx="578.2" cy="127.2" r="1.64"/>
<circle cx="582.4" cy="127.2" r="1.82"/>
<circle cx="586.6" cy="127.2" r="1.87"/>
<circle cx="590.8" cy="127.2" r="1.71"/>
<circle cx="595.0" cy="127.2" r="1.68"/>
<circle cx="599.2" cy="127.2" r="1.96"/>
<circle cx="603.4" cy="127.2" r="1.93"/>
<circle cx="607.6" cy="127.2" r="1.86"/>
<circle cx="611.8" cy="127.2" r="1.53"/>
<circle cx="616.0" cy="127.2" r="2.04"/>
<circle cx="620.2" cy="127.2" r="1.33"/>
<circle cx="624.4" cy="127.2" r="1.62"/>
<circle cx="628.6" cy="127.2" r="2.15"/>
<circle cx="632.8" cy="127.2" r="1.71"/>
<circle cx="637.0" cy="127.2" r="1.82"/>
<circle cx="641.2" cy="127.2" r="2.16"/>
<circle cx="645.4" cy="127.2" r="1.89"/>
<circle cx="649.6" cy="127.2" r="1.23"/>
<circle cx="653.8" cy="127.2" r="2.01"/>
<circle cx="658.0" cy="127.2" r="1.79"/>
<circle cx="662.2" cy="127.2" r="2.06"/>
<circle cx="666.4" cy="127.2" r="1.58"/>
<circle cx="670.6" cy="127.2" r="1.43"/>
<circle cx="674.8" cy="127.2" r="1.83"/>
<circle cx="485.8" cy="131.4" r="1.65"/>
<circle cx="490.0" cy="131.4" r="1.38"/>
<circle cx="494.2" cy="131.4" r="1.92"/>
<circle cx="498.4" cy="131.4" r="2.07"/>
<circle cx="502.6" cy="131.4" r="1.06"/>
<circle cx="506.8" cy="131.4" r="1.49"/>
<circle cx="511.0" cy="131.4" r="1.35"/>
<circle cx="515.2" cy="131.4" r="1.51"/>
<circle cx="519.4" cy="131.4" r="2.13"/>
<circle cx="523.6" cy="131.4" r="1.57"/>
<circle cx="527.8" cy="131.4" r="1.58"/>
<circle cx="532.0" cy="131.4" r="2.07"/>
<circle cx="536.2" cy="131.4" r="1.75"/>
<circle cx="540.4" cy="131.4" r="1.39"/>
<circle cx="544.6" cy="131.4" r="1.03"/>
<circle cx="548.8" cy="131.4" r="1.71"/>
<circle cx="553.0" cy="131.4" r="2.07"/>
<circle cx="557.2" cy="131.4" r="1.98"/>
<circle cx="561.4" cy="131.4" r="1.85"/>
<circle cx="565.6" cy="131.4" r="2.15"/>
<circle cx="569.8" cy="131.4" r="1.77"/>
<circle cx="574.0" cy="131.4" r="2.14"/>
<circle cx="578.2" cy="131.4" r="2.10"/>
<circle cx="582.4" cy="131.4" r="2.03"/>
<circle cx="586.6" cy="131.4" r="2.05"/>
<circle cx="590.8" cy="131.4" r="2.16"/>
<circle cx="595.0" cy="131.4" r="2.05"/>
<circle cx="599.2" cy="131.4" r="2.08"/>
<circle cx="603.4" cy="131.4" r="2.16"/>
<circle cx="607.6" cy="131.4" r="2.04"/>
<circle cx="611.8" cy="131.4" r="1.76"/>
<circle cx="616.0" cy="131.4" r="1.48"/>
<circle cx="620.2" cy="131.4" r="1.33"/>
<circle cx="624.4" cy="131.4" r="1.59"/>
<circle cx="628.6" cy="131.4" r="1.76"/>
<circle cx="632.8" cy="131.4" r="1.51"/>
<circle cx="637.0" cy="131.4" r="1.91"/>
<circle cx="641.2" cy="131.4" r="2.12"/>
<circle cx="645.4" cy="131.4" r="1.21"/>
<circle cx="649.6" cy="131.4" r="1.56"/>
<circle cx="653.8" cy="131.4" r="1.98"/>
<circle cx="658.0" cy="131.4" r="1.60"/>
<circle cx="662.2" cy="131.4" r="2.05"/>
<circle cx="666.4" cy="131.4" r="1.92"/>
<circle cx="670.6" cy="131.4" r="1.35"/>
<circle cx="674.8" cy="131.4" r="2.09"/>
<circle cx="485.8" cy="135.6" r="1.73"/>
<circle cx="490.0" cy="135.6" r="1.60"/>
<circle cx="494.2" cy="135.6" r="1.68"/>
<circle cx="498.4" cy="135.6" r="2.13"/>
<circle cx="502.6" cy="135.6" r="1.79"/>
<circle cx="506.8" cy="135.6" r="1.95"/>
<circle cx="511.0" cy="135.6" r="1.57"/>
<circle cx="515.2" cy="135.6" r="1.56"/>
<circle cx="519.4" cy="135.6" r="1.78"/>
<circle cx="523.6" cy="135.6" r="1.99"/>
<circle cx="527.8" cy="135.6" r="1.78"/>
<circle cx="532.0" cy="135.6" r="1.58"/>
<circle cx="536.2" cy="135.6" r="1.98"/>
<circle cx="540.4" cy="135.6" r="1.85"/>
<circle cx="544.6" cy="135.6" r="1.47"/>
<circle cx="548.8" cy="135.6" r="1.53"/>
<circle cx="553.0" cy="135.6" r="1.84"/>
<circle cx="557.2" cy="135.6" r="1.69"/>
<circle cx="561.4" cy="135.6" r="2.01"/>
<circle cx="565.6" cy="135.6" r="2.00"/>
<circle cx="569.8" cy="135.6" r="2.10"/>
<circle cx="574.0" cy="135.6" r="1.96"/>
<circle cx="578.2" cy="135.6" r="2.16"/>
<circle cx="582.4" cy="135.6" r="1.93"/>
<circle cx="586.6" cy="135.6" r="2.00"/>
<circle cx="590.8" cy="135.6" r="2.02"/>
<circle cx="595.0" cy="135.6" r="1.65"/>
<circle cx="599.2" cy="135.6" r="2.10"/>
<circle cx="603.4" cy="135.6" r="2.04"/>
<circle cx="607.6" cy="135.6" r="1.77"/>
<circle cx="611.8" cy="135.6" r="1.21"/>
<circle cx="616.0" cy="135.6" r="1.58"/>
<circle cx="620.2" cy="135.6" r="1.83"/>
<circle cx="624.4" cy="135.6" r="1.92"/>
<circle cx="628.6" cy="135.6" r="1.86"/>
<circle cx="632.8" cy="135.6" r="1.53"/>
<circle cx="637.0" cy="135.6" r="1.79"/>
<circle cx="641.2" cy="135.6" r="1.97"/>
<circle cx="645.4" cy="135.6" r="1.43"/>
<circle cx="649.6" cy="135.6" r="1.71"/>
<circle cx="653.8" cy="135.6" r="2.07"/>
<circle cx="658.0" cy="135.6" r="1.66"/>
<circle cx="662.2" cy="135.6" r="1.56"/>
<circle cx="666.4" cy="135.6" r="1.91"/>
<circle cx="670.6" cy="135.6" r="1.55"/>
<circle cx="674.8" cy="135.6" r="1.64"/>
<circle cx="485.8" cy="139.8" r="2.13"/>
<circle cx="490.0" cy="139.8" r="1.71"/>
<circle cx="494.2" cy="139.8" r="1.51"/>
<circle cx="498.4" cy="139.8" r="2.10"/>
<circle cx="502.6" cy="139.8" r="1.41"/>
<circle cx="506.8" cy="139.8" r="1.93"/>
<circle cx="511.0" cy="139.8" r="1.79"/>
<circle cx="515.2" cy="139.8" r="1.21"/>
<circle cx="519.4" cy="139.8" r="1.95"/>
<circle cx="523.6" cy="139.8" r="1.81"/>
<circle cx="527.8" cy="139.8" r="1.98"/>
<circle cx="532.0" cy="139.8" r="1.69"/>
<circle cx="536.2" cy="139.8" r="1.85"/>
<circle cx="540.4" cy="139.8" r="2.12"/>
<circle cx="544.6" cy="139.8" r="2.07"/>
<circle cx="548.8" cy="139.8" r="1.68"/>
<circle cx="553.0" cy="139.8" r="1.18"/>
<circle cx="557.2" cy="139.8" r="1.24"/>
<circle cx="561.4" cy="139.8" r="1.48"/>
<circle cx="565.6" cy="139.8" r="1.51"/>
<circle cx="569.8" cy="139.8" r="1.54"/>
<circle cx="574.0" cy="139.8" r="1.42"/>
<circle cx="578.2" cy="139.8" r="1.61"/>
<circle cx="582.4" cy="139.8" r="1.51"/>
<circle cx="586.6" cy="139.8" r="1.65"/>
<circle cx="590.8" cy="139.8" r="1.56"/>
<circle cx="595.0" cy="139.8" r="1.40"/>
<circle cx="599.2" cy="139.8" r="1.53"/>
<circle cx="603.4" cy="139.8" r="1.37"/>
<circle cx="607.6" cy="139.8" r="1.45"/>
<circle cx="611.8" cy="139.8" r="1.69"/>
<circle cx="616.0" cy="139.8" r="1.82"/>
<circle cx="620.2" cy="139.8" r="2.09"/>
<circle cx="624.4" cy="139.8" r="2.05"/>
<circle cx="628.6" cy="139.8" r="1.63"/>
<circle cx="632.8" cy="139.8" r="1.96"/>
<circle cx="637.0" cy="139.8" r="1.93"/>
<circle cx="641.2" cy="139.8" r="1.24"/>
<circle cx="645.4" cy="139.8" r="1.46"/>
<circle cx="649.6" cy="139.8" r="1.95"/>
<circle cx="653.8" cy="139.8" r="1.41"/>
<circle cx="658.0" cy="139.8" r="1.82"/>
<circle cx="662.2" cy="139.8" r="2.14"/>
<circle cx="666.4" cy="139.8" r="1.69"/>
<circle cx="670.6" cy="139.8" r="1.48"/>
<circle cx="674.8" cy="139.8" r="1.64"/>
<circle cx="485.8" cy="144.0" r="2.15"/>
<circle cx="490.0" cy="144.0" r="1.89"/>
<circle cx="494.2" cy="144.0" r="1.24"/>
<circle cx="498.4" cy="144.0" r="1.97"/>
<circle cx="502.6" cy="144.0" r="1.82"/>
<circle cx="506.8" cy="144.0" r="1.56"/>
<circle cx="511.0" cy="144.0" r="1.62"/>
<circle cx="515.2" cy="144.0" r="1.37"/>
<circle cx="519.4" cy="144.0" r="1.53"/>
<circle cx="523.6" cy="144.0" r="2.04"/>
<circle cx="527.8" cy="144.0" r="1.93"/>
<circle cx="532.0" cy="144.0" r="1.78"/>
<circle cx="536.2" cy="144.0" r="1.74"/>
<circle cx="540.4" cy="144.0" r="1.84"/>
<circle cx="544.6" cy="144.0" r="2.14"/>
<circle cx="548.8" cy="144.0" r="2.04"/>
<circle cx="553.0" cy="144.0" r="1.73"/>
<circle cx="557.2" cy="144.0" r="1.76"/>
<circle cx="561.4" cy="144.0" r="1.68"/>
<circle cx="565.6" cy="144.0" r="1.80"/>
<circle cx="569.8" cy="144.0" r="0.92"/>
<circle cx="574.0" cy="144.0" r="1.77"/>
<circle cx="578.2" cy="144.0" r="1.79"/>
<circle cx="582.4" cy="144.0" r="1.81"/>
<circle cx="586.6" cy="144.0" r="1.59"/>
<circle cx="590.8" cy="144.0" r="1.67"/>
<circle cx="595.0" cy="144.0" r="1.61"/>
<circle cx="599.2" cy="144.0" r="1.71"/>
<circle cx="603.4" cy="144.0" r="2.05"/>
<circle cx="607.6" cy="144.0" r="1.93"/>
<circle cx="611.8" cy="144.0" r="1.67"/>
<circle cx="616.0" cy="144.0" r="1.76"/>
<circle cx="620.2" cy="144.0" r="1.88"/>
<circle cx="624.4" cy="144.0" r="1.37"/>
<circle cx="628.6" cy="144.0" r="1.86"/>
<circle cx="632.8" cy="144.0" r="2.07"/>
<circle cx="637.0" cy="144.0" r="2.08"/>
<circle cx="641.2" cy="144.0" r="1.53"/>
<circle cx="645.4" cy="144.0" r="1.72"/>
<circle cx="649.6" cy="144.0" r="2.02"/>
<circle cx="653.8" cy="144.0" r="1.75"/>
<circle cx="658.0" cy="144.0" r="2.02"/>
<circle cx="662.2" cy="144.0" r="1.40"/>
<circle cx="666.4" cy="144.0" r="1.34"/>
<circle cx="670.6" cy="144.0" r="1.82"/>
<circle cx="674.8" cy="144.0" r="2.08"/>
<circle cx="485.8" cy="148.2" r="1.98"/>
<circle cx="490.0" cy="148.2" r="2.04"/>
<circle cx="494.2" cy="148.2" r="1.51"/>
<circle cx="498.4" cy="148.2" r="1.80"/>
<circle cx="502.6" cy="148.2" r="1.90"/>
<circle cx="506.8" cy="148.2" r="1.23"/>
<circle cx="511.0" cy="148.2" r="1.90"/>
<circle cx="515.2" cy="148.2" r="1.90"/>
<circle cx="519.4" cy="148.2" r="0.95"/>
<circle cx="523.6" cy="148.2" r="1.53"/>
<circle cx="527.8" cy="148.2" r="1.90"/>
<circle cx="532.0" cy="148.2" r="2.10"/>
<circle cx="536.2" cy="148.2" r="1.77"/>
<circle cx="540.4" cy="148.2" r="1.78"/>
<circle cx="544.6" cy="148.2" r="1.64"/>
<circle cx="548.8" cy="148.2" r="1.60"/>
<circle cx="553.0" cy="148.2" r="1.99"/>
<circle cx="557.2" cy="148.2" r="2.10"/>
<circle cx="561.4" cy="148.2" r="2.12"/>
<circle cx="565.6" cy="148.2" r="2.08"/>
<circle cx="569.8" cy="148.2" r="1.66"/>
<circle cx="574.0" cy="148.2" r="2.14"/>
<circle cx="578.2" cy="148.2" r="2.07"/>
<circle cx="582.4" cy="148.2" r="1.95"/>
<circle cx="586.6" cy="148.2" r="1.76"/>
<circle cx="590.8" cy="148.2" r="1.98"/>
<circle cx="595.0" cy="148.2" r="1.97"/>
<circle cx="599.2" cy="148.2" r="1.96"/>
<circle cx="603.4" cy="148.2" r="2.12"/>
<circle cx="607.6" cy="148.2" r="1.69"/>
<circle cx="611.8" cy="148.2" r="1.82"/>
<circle cx="616.0" cy="148.2" r="1.63"/>
<circle cx="620.2" cy="148.2" r="1.73"/>
<circle cx="624.4" cy="148.2" r="1.66"/>
<circle cx="628.6" cy="148.2" r="1.93"/>
<circle cx="632.8" cy="148.2" r="1.94"/>
<circle cx="637.0" cy="148.2" r="1.42"/>
<circle cx="641.2" cy="148.2" r="1.36"/>
<circle cx="645.4" cy="148.2" r="1.90"/>
<circle cx="649.6" cy="148.2" r="1.89"/>
<circle cx="653.8" cy="148.2" r="1.64"/>
<circle cx="658.0" cy="148.2" r="1.76"/>
<circle cx="662.2" cy="148.2" r="1.98"/>
<circle cx="666.4" cy="148.2" r="1.39"/>
<circle cx="670.6" cy="148.2" r="1.89"/>
<circle cx="674.8" cy="148.2" r="2.11"/>
<circle cx="485.8" cy="152.4" r="1.62"/>
<circle cx="490.0" cy="152.4" r="1.62"/>
<circle cx="494.2" cy="152.4" r="1.51"/>
<circle cx="498.4" cy="152.4" r="1.64"/>
<circle cx="502.6" cy="152.4" r="2.11"/>
<circle cx="506.8" cy="152.4" r="1.98"/>
<circle cx="511.0" cy="152.4" r="1.79"/>
<circle cx="515.2" cy="152.4" r="1.58"/>
<circle cx="519.4" cy="152.4" r="1.90"/>
<circle cx="523.6" cy="152.4" r="1.07"/>
<circle cx="527.8" cy="152.4" r="1.58"/>
<circle cx="532.0" cy="152.4" r="2.11"/>
<circle cx="536.2" cy="152.4" r="2.15"/>
<circle cx="540.4" cy="152.4" r="2.03"/>
<circle cx="544.6" cy="152.4" r="1.93"/>
<circle cx="548.8" cy="152.4" r="1.82"/>
<circle cx="553.0" cy="152.4" r="1.73"/>
<circle cx="557.2" cy="152.4" r="1.67"/>
<circle cx="561.4" cy="152.4" r="1.50"/>
<circle cx="565.6" cy="152.4" r="1.77"/>
<circle cx="569.8" cy="152.4" r="1.51"/>
<circle cx="574.0" cy="152.4" r="1.63"/>
<circle cx="578.2" cy="152.4" r="1.83"/>
<circle cx="582.4" cy="152.4" r="1.73"/>
<circle cx="586.6" cy="152.4" r="1.77"/>
<circle cx="590.8" cy="152.4" r="1.78"/>
<circle cx="595.0" cy="152.4" r="1.71"/>
<circle cx="599.2" cy="152.4" r="1.80"/>
<circle cx="603.4" cy="152.4" r="1.31"/>
<circle cx="607.6" cy="152.4" r="1.62"/>
<circle cx="611.8" cy="152.4" r="1.50"/>
<circle cx="616.0" cy="152.4" r="1.81"/>
<circle cx="620.2" cy="152.4" r="1.95"/>
<circle cx="624.4" cy="152.4" r="2.16"/>
<circle cx="628.6" cy="152.4" r="1.98"/>
<circle cx="632.8" cy="152.4" r="1.73"/>
<circle cx="637.0" cy="152.4" r="1.26"/>
<circle cx="641.2" cy="152.4" r="1.84"/>
<circle cx="645.4" cy="152.4" r="1.78"/>
<circle cx="649.6" cy="152.4" r="1.61"/>
<circle cx="653.8" cy="152.4" r="1.71"/>
<circle cx="658.0" cy="152.4" r="2.01"/>
<circle cx="662.2" cy="152.4" r="1.74"/>
<circle cx="666.4" cy="152.4" r="1.48"/>
<circle cx="670.6" cy="152.4" r="2.03"/>
<circle cx="674.8" cy="152.4" r="2.05"/>
<circle cx="485.8" cy="156.6" r="1.88"/>
<circle cx="490.0" cy="156.6" r="1.49"/>
<circle cx="494.2" cy="156.6" r="1.53"/>
<circle cx="498.4" cy="156.6" r="1.54"/>
<circle cx="502.6" cy="156.6" r="2.02"/>
<circle cx="506.8" cy="156.6" r="1.89"/>
<circle cx="511.0" cy="156.6" r="1.82"/>
<circle cx="515.2" cy="156.6" r="1.60"/>
<circle cx="519.4" cy="156.6" r="2.05"/>
<circle cx="523.6" cy="156.6" r="1.79"/>
<circle cx="527.8" cy="156.6" r="1.50"/>
<circle cx="532.0" cy="156.6" r="1.49"/>
<circle cx="536.2" cy="156.6" r="1.88"/>
<circle cx="540.4" cy="156.6" r="1.77"/>
<circle cx="544.6" cy="156.6" r="1.89"/>
<circle cx="548.8" cy="156.6" r="1.61"/>
<circle cx="553.0" cy="156.6" r="1.61"/>
<circle cx="557.2" cy="156.6" r="1.87"/>
<circle cx="561.4" cy="156.6" r="1.87"/>
<circle cx="565.6" cy="156.6" r="1.78"/>
<circle cx="569.8" cy="156.6" r="1.90"/>
<circle cx="574.0" cy="156.6" r="1.94"/>
<circle cx="578.2" cy="156.6" r="1.90"/>
<circle cx="582.4" cy="156.6" r="2.01"/>
<circle cx="586.6" cy="156.6" r="1.97"/>
<circle cx="590.8" cy="156.6" r="1.91"/>
<circle cx="595.0" cy="156.6" r="2.05"/>
<circle cx="599.2" cy="156.6" r="1.78"/>
<circle cx="603.4" cy="156.6" r="2.11"/>
<circle cx="607.6" cy="156.6" r="2.07"/>
<circle cx="611.8" cy="156.6" r="1.66"/>
<circle cx="616.0" cy="156.6" r="2.04"/>
<circle cx="620.2" cy="156.6" r="2.07"/>
<circle cx="624.4" cy="156.6" r="1.64"/>
<circle cx="628.6" cy="156.6" r="0.93"/>
<circle cx="632.8" cy="156.6" r="1.55"/>
<circle cx="637.0" cy="156.6" r="1.95"/>
<circle cx="641.2" cy="156.6" r="2.11"/>
<circle cx="645.4" cy="156.6" r="1.76"/>
<circle cx="649.6" cy="156.6" r="1.82"/>
<circle cx="653.8" cy="156.6" r="1.97"/>
<circle cx="658.0" cy="156.6" r="2.05"/>
<circle cx="662.2" cy="156.6" r="1.49"/>
<circle cx="666.4" cy="156.6" r="1.94"/>
<circle cx="670.6" cy="156.6" r="2.07"/>
<circle cx="674.8" cy="156.6" r="2.01"/>
<circle cx="485.8" cy="160.8" r="1.65"/>
<circle cx="490.0" cy="160.8" r="1.65"/>
<circle cx="494.2" cy="160.8" r="1.81"/>
<circle cx="498.4" cy="160.8" r="1.28"/>
<circle cx="502.6" cy="160.8" r="1.69"/>
<circle cx="506.8" cy="160.8" r="1.80"/>
<circle cx="511.0" cy="160.8" r="2.02"/>
<circle cx="515.2" cy="160.8" r="1.59"/>
<circle cx="519.4" cy="160.8" r="1.90"/>
<circle cx="523.6" cy="160.8" r="1.90"/>
<circle cx="527.8" cy="160.8" r="1.75"/>
<circle cx="532.0" cy="160.8" r="1.71"/>
<circle cx="536.2" cy="160.8" r="1.19"/>
<circle cx="540.4" cy="160.8" r="1.49"/>
<circle cx="544.6" cy="160.8" r="1.76"/>
<circle cx="548.8" cy="160.8" r="1.68"/>
<circle cx="553.0" cy="160.8" r="2.02"/>
<circle cx="557.2" cy="160.8" r="2.00"/>
<circle cx="561.4" cy="160.8" r="1.95"/>
<circle cx="565.6" cy="160.8" r="1.92"/>
<circle cx="569.8" cy="160.8" r="2.12"/>
<circle cx="574.0" cy="160.8" r="2.07"/>
<circle cx="578.2" cy="160.8" r="2.01"/>
<circle cx="582.4" cy="160.8" r="2.01"/>
<circle cx="586.6" cy="160.8" r="2.10"/>
<circle cx="590.8" cy="160.8" r="2.06"/>
<circle cx="595.0" cy="160.8" r="2.06"/>
<circle cx="599.2" cy="160.8" r="1.86"/>
<circle cx="603.4" cy="160.8" r="1.91"/>
<circle cx="607.6" cy="160.8" r="2.04"/>
<circle cx="611.8" cy="160.8" r="1.48"/>
<circle cx="616.0" cy="160.8" r="1.53"/>
<circle cx="620.2" cy="160.8" r="1.50"/>
<circle cx="624.4" cy="160.8" r="1.52"/>
<circle cx="628.6" cy="160.8" r="1.59"/>
<circle cx="632.8" cy="160.8" r="1.89"/>
<circle cx="637.0" cy="160.8" r="2.04"/>
<circle cx="641.2" cy="160.8" r="1.46"/>
<circle cx="645.4" cy="160.8" r="1.76"/>
<circle cx="649.6" cy="160.8" r="1.72"/>
<circle cx="653.8" cy="160.8" r="1.96"/>
<circle cx="658.0" cy="160.8" r="1.59"/>
<circle cx="662.2" cy="160.8" r="1.58"/>
<circle cx="666.4" cy="160.8" r="2.07"/>
<circle cx="670.6" cy="160.8" r="2.11"/>
<circle cx="674.8" cy="160.8" r="1.79"/>
<circle cx="485.8" cy="165.0" r="1.58"/>
<circle cx="490.0" cy="165.0" r="1.95"/>
<circle cx="494.2" cy="165.0" r="1.98"/>
<circle cx="498.4" cy="165.0" r="1.71"/>
<circle cx="502.6" cy="165.0" r="1.38"/>
<circle cx="506.8" cy="165.0" r="1.78"/>
<circle cx="511.0" cy="165.0" r="1.94"/>
<circle cx="515.2" cy="165.0" r="1.67"/>
<circle cx="519.4" cy="165.0" r="1.52"/>
<circle cx="523.6" cy="165.0" r="1.84"/>
<circle cx="527.8" cy="165.0" r="1.97"/>
<circle cx="532.0" cy="165.0" r="2.02"/>
<circle cx="536.2" cy="165.0" r="2.07"/>
<circle cx="540.4" cy="165.0" r="1.85"/>
<circle cx="544.6" cy="165.0" r="1.65"/>
<circle cx="548.8" cy="165.0" r="1.41"/>
<circle cx="553.0" cy="165.0" r="1.43"/>
<circle cx="557.2" cy="165.0" r="1.25"/>
<circle cx="561.4" cy="165.0" r="1.12"/>
<circle cx="565.6" cy="165.0" r="1.38"/>
<circle cx="569.8" cy="165.0" r="1.26"/>
<circle cx="574.0" cy="165.0" r="1.46"/>
<circle cx="578.2" cy="165.0" r="1.32"/>
<circle cx="582.4" cy="165.0" r="1.30"/>
<circle cx="586.6" cy="165.0" r="1.32"/>
<circle cx="590.8" cy="165.0" r="1.53"/>
<circle cx="595.0" cy="165.0" r="1.18"/>
<circle cx="599.2" cy="165.0" r="1.41"/>
<circle cx="603.4" cy="165.0" r="1.47"/>
<circle cx="607.6" cy="165.0" r="1.15"/>
<circle cx="611.8" cy="165.0" r="1.39"/>
<circle cx="616.0" cy="165.0" r="1.65"/>
<circle cx="620.2" cy="165.0" r="1.39"/>
<circle cx="624.4" cy="165.0" r="1.77"/>
<circle cx="628.6" cy="165.0" r="1.92"/>
<circle cx="632.8" cy="165.0" r="1.90"/>
<circle cx="637.0" cy="165.0" r="1.75"/>
<circle cx="641.2" cy="165.0" r="1.73"/>
<circle cx="645.4" cy="165.0" r="1.69"/>
<circle cx="649.6" cy="165.0" r="2.03"/>
<circle cx="653.8" cy="165.0" r="1.56"/>
<circle cx="658.0" cy="165.0" r="1.15"/>
<circle cx="662.2" cy="165.0" r="2.00"/>
<circle cx="666.4" cy="165.0" r="2.15"/>
<circle cx="670.6" cy="165.0" r="1.99"/>
<circle cx="674.8" cy="165.0" r="1.73"/>
<circle cx="485.8" cy="169.2" r="1.91"/>
<circle cx="490.0" cy="169.2" r="1.62"/>
<circle cx="494.2" cy="169.2" r="1.96"/>
<circle cx="498.4" cy="169.2" r="2.12"/>
<circle cx="502.6" cy="169.2" r="1.80"/>
<circle cx="506.8" cy="169.2" r="1.54"/>
<circle cx="511.0" cy="169.2" r="1.70"/>
<circle cx="515.2" cy="169.2" r="1.93"/>
<circle cx="519.4" cy="169.2" r="1.26"/>
<circle cx="523.6" cy="169.2" r="1.80"/>
<circle cx="527.8" cy="169.2" r="1.70"/>
<circle cx="532.0" cy="169.2" r="1.63"/>
<circle cx="536.2" cy="169.2" r="1.70"/>
<circle cx="540.4" cy="169.2" r="1.87"/>
<circle cx="544.6" cy="169.2" r="1.70"/>
<circle cx="548.8" cy="169.2" r="1.77"/>
<circle cx="553.0" cy="169.2" r="1.85"/>
<circle cx="557.2" cy="169.2" r="1.88"/>
<circle cx="561.4" cy="169.2" r="2.01"/>
<circle cx="565.6" cy="169.2" r="1.81"/>
<circle cx="569.8" cy="169.2" r="1.78"/>
<circle cx="574.0" cy="169.2" r="1.86"/>
<circle cx="578.2" cy="169.2" r="1.91"/>
<circle cx="582.4" cy="169.2" r="1.83"/>
<circle cx="586.6" cy="169.2" r="1.70"/>
<circle cx="590.8" cy="169.2" r="1.98"/>
<circle cx="595.0" cy="169.2" r="1.85"/>
<circle cx="599.2" cy="169.2" r="1.89"/>
<circle cx="603.4" cy="169.2" r="1.73"/>
<circle cx="607.6" cy="169.2" r="1.97"/>
<circle cx="611.8" cy="169.2" r="1.66"/>
<circle cx="616.0" cy="169.2" r="1.72"/>
<circle cx="620.2" cy="169.2" r="2.01"/>
<circle cx="624.4" cy="169.2" r="1.58"/>
<circle cx="628.6" cy="169.2" r="1.69"/>
<circle cx="632.8" cy="169.2" r="1.72"/>
<circle cx="637.0" cy="169.2" r="1.87"/>
<circle cx="641.2" cy="169.2" r="1.70"/>
<circle cx="645.4" cy="169.2" r="1.54"/>
<circle cx="649.6" cy="169.2" r="1.28"/>
<circle cx="653.8" cy="169.2" r="1.37"/>
<circle cx="658.0" cy="169.2" r="1.49"/>
<circle cx="662.2" cy="169.2" r="2.11"/>
<circle cx="666.4" cy="169.2" r="2.04"/>
<circle cx="670.6" cy="169.2" r="1.49"/>
<circle cx="674.8" cy="169.2" r="1.77"/>
<circle cx="485.8" cy="173.4" r="2.06"/>
<circle cx="490.0" cy="173.4" r="1.29"/>
<circle cx="494.2" cy="173.4" r="1.81"/>
<circle cx="498.4" cy="173.4" r="1.96"/>
<circle cx="502.6" cy="173.4" r="2.07"/>
<circle cx="506.8" cy="173.4" r="1.92"/>
<circle cx="511.0" cy="173.4" r="1.56"/>
<circle cx="515.2" cy="173.4" r="1.65"/>
<circle cx="519.4" cy="173.4" r="1.75"/>
<circle cx="523.6" cy="173.4" r="2.09"/>
<circle cx="527.8" cy="173.4" r="1.76"/>
<circle cx="532.0" cy="173.4" r="1.69"/>
<circle cx="536.2" cy="173.4" r="1.65"/>
<circle cx="540.4" cy="173.4" r="1.72"/>
<circle cx="544.6" cy="173.4" r="1.62"/>
<circle cx="548.8" cy="173.4" r="1.78"/>
<circle cx="553.0" cy="173.4" r="1.83"/>
<circle cx="557.2" cy="173.4" r="1.82"/>
<circle cx="561.4" cy="173.4" r="1.74"/>
<circle cx="565.6" cy="173.4" r="1.55"/>
<circle cx="569.8" cy="173.4" r="1.90"/>
<circle cx="574.0" cy="173.4" r="1.88"/>
<circle cx="578.2" cy="173.4" r="1.59"/>
<circle cx="582.4" cy="173.4" r="1.80"/>
<circle cx="586.6" cy="173.4" r="1.55"/>
<circle cx="590.8" cy="173.4" r="1.97"/>
<circle cx="595.0" cy="173.4" r="1.86"/>
<circle cx="599.2" cy="173.4" r="1.95"/>
<circle cx="603.4" cy="173.4" r="1.30"/>
<circle cx="607.6" cy="173.4" r="1.88"/>
<circle cx="611.8" cy="173.4" r="1.78"/>
<circle cx="616.0" cy="173.4" r="1.68"/>
<circle cx="620.2" cy="173.4" r="1.77"/>
<circle cx="624.4" cy="173.4" r="1.73"/>
<circle cx="628.6" cy="173.4" r="1.83"/>
<circle cx="632.8" cy="173.4" r="1.89"/>
<circle cx="637.0" cy="173.4" r="1.41"/>
<circle cx="641.2" cy="173.4" r="2.00"/>
<circle cx="645.4" cy="173.4" r="1.63"/>
<circle cx="649.6" cy="173.4" r="1.43"/>
<circle cx="653.8" cy="173.4" r="1.68"/>
<circle cx="658.0" cy="173.4" r="2.01"/>
<circle cx="662.2" cy="173.4" r="1.96"/>
<circle cx="666.4" cy="173.4" r="1.76"/>
<circle cx="670.6" cy="173.4" r="1.67"/>
<circle cx="674.8" cy="173.4" r="1.96"/>
<circle cx="485.8" cy="177.6" r="1.97"/>
<circle cx="490.0" cy="177.6" r="2.00"/>
<circle cx="494.2" cy="177.6" r="1.46"/>
<circle cx="498.4" cy="177.6" r="1.72"/>
<circle cx="502.6" cy="177.6" r="2.00"/>
<circle cx="506.8" cy="177.6" r="2.04"/>
<circle cx="511.0" cy="177.6" r="1.75"/>
<circle cx="515.2" cy="177.6" r="1.41"/>
<circle cx="519.4" cy="177.6" r="0.95"/>
<circle cx="523.6" cy="177.6" r="1.61"/>
<circle cx="527.8" cy="177.6" r="1.80"/>
<circle cx="532.0" cy="177.6" r="2.03"/>
<circle cx="536.2" cy="177.6" r="1.94"/>
<circle cx="540.4" cy="177.6" r="2.03"/>
<circle cx="544.6" cy="177.6" r="1.91"/>
<circle cx="548.8" cy="177.6" r="1.84"/>
<circle cx="553.0" cy="177.6" r="1.96"/>
<circle cx="557.2" cy="177.6" r="1.68"/>
<circle cx="561.4" cy="177.6" r="1.92"/>
<circle cx="565.6" cy="177.6" r="1.88"/>
<circle cx="569.8" cy="177.6" r="1.93"/>
<circle cx="574.0" cy="177.6" r="1.85"/>
<circle cx="578.2" cy="177.6" r="1.83"/>
<circle cx="582.4" cy="177.6" r="1.89"/>
<circle cx="586.6" cy="177.6" r="1.73"/>
<circle cx="590.8" cy="177.6" r="1.92"/>
<circle cx="595.0" cy="177.6" r="1.80"/>
<circle cx="599.2" cy="177.6" r="1.81"/>
<circle cx="603.4" cy="177.6" r="1.94"/>
<circle cx="607.6" cy="177.6" r="1.79"/>
<circle cx="611.8" cy="177.6" r="2.02"/>
<circle cx="616.0" cy="177.6" r="1.81"/>
<circle cx="620.2" cy="177.6" r="1.77"/>
<circle cx="624.4" cy="177.6" r="2.13"/>
<circle cx="628.6" cy="177.6" r="1.97"/>
<circle cx="632.8" cy="177.6" r="1.82"/>
<circle cx="637.0" cy="177.6" r="1.74"/>
<circle cx="641.2" cy="177.6" r="1.37"/>
<circle cx="645.4" cy="177.6" r="1.35"/>
<circle cx="649.6" cy="177.6" r="1.71"/>
<circle cx="653.8" cy="177.6" r="1.96"/>
<circle cx="658.0" cy="177.6" r="1.91"/>
<circle cx="662.2" cy="177.6" r="1.37"/>
<circle cx="666.4" cy="177.6" r="1.73"/>
<circle cx="670.6" cy="177.6" r="2.03"/>
<circle cx="674.8" cy="177.6" r="1.78"/>
<circle cx="485.8" cy="181.8" r="1.96"/>
<circle cx="490.0" cy="181.8" r="1.88"/>
<circle cx="494.2" cy="181.8" r="1.76"/>
<circle cx="498.4" cy="181.8" r="1.51"/>
<circle cx="502.6" cy="181.8" r="1.52"/>
<circle cx="506.8" cy="181.8" r="2.09"/>
<circle cx="511.0" cy="181.8" r="2.10"/>
<circle cx="515.2" cy="181.8" r="1.97"/>
<circle cx="519.4" cy="181.8" r="1.96"/>
<circle cx="523.6" cy="181.8" r="1.49"/>
<circle cx="527.8" cy="181.8" r="1.32"/>
<circle cx="532.0" cy="181.8" r="1.22"/>
<circle cx="536.2" cy="181.8" r="1.69"/>
<circle cx="540.4" cy="181.8" r="1.60"/>
<circle cx="544.6" cy="181.8" r="1.76"/>
<circle cx="548.8" cy="181.8" r="2.05"/>
<circle cx="553.0" cy="181.8" r="2.06"/>
<circle cx="557.2" cy="181.8" r="1.78"/>
<circle cx="561.4" cy="181.8" r="1.64"/>
<circle cx="565.6" cy="181.8" r="2.05"/>
<circle cx="569.8" cy="181.8" r="2.08"/>
<circle cx="574.0" cy="181.8" r="2.09"/>
<circle cx="578.2" cy="181.8" r="2.13"/>
<circle cx="582.4" cy="181.8" r="2.02"/>
<circle cx="586.6" cy="181.8" r="1.95"/>
<circle cx="590.8" cy="181.8" r="2.01"/>
<circle cx="595.0" cy="181.8" r="2.07"/>
<circle cx="599.2" cy="181.8" r="1.89"/>
<circle cx="603.4" cy="181.8" r="1.80"/>
<circle cx="607.6" cy="181.8" r="1.69"/>
<circle cx="611.8" cy="181.8" r="2.03"/>
<circle cx="616.0" cy="181.8" r="1.67"/>
<circle cx="620.2" cy="181.8" r="1.49"/>
<circle cx="624.4" cy="181.8" r="1.69"/>
<circle cx="628.6" cy="181.8" r="1.25"/>
<circle cx="632.8" cy="181.8" r="1.15"/>
<circle cx="637.0" cy="181.8" r="1.63"/>
<circle cx="641.2" cy="181.8" r="1.74"/>
<circle cx="645.4" cy="181.8" r="1.99"/>
<circle cx="649.6" cy="181.8" r="1.70"/>
<circle cx="653.8" cy="181.8" r="2.06"/>
<circle cx="658.0" cy="181.8" r="1.85"/>
<circle cx="662.2" cy="181.8" r="1.35"/>
<circle cx="666.4" cy="181.8" r="2.00"/>
<circle cx="670.6" cy="181.8" r="1.98"/>
<circle cx="674.8" cy="181.8" r="1.88"/>
<circle cx="485.8" cy="186.0" r="1.58"/>
<circle cx="490.0" cy="186.0" r="1.79"/>
<circle cx="494.2" cy="186.0" r="1.76"/>
<circle cx="498.4" cy="186.0" r="1.75"/>
<circle cx="502.6" cy="186.0" r="1.79"/>
<circle cx="506.8" cy="186.0" r="1.75"/>
<circle cx="511.0" cy="186.0" r="1.98"/>
<circle cx="515.2" cy="186.0" r="2.14"/>
<circle cx="519.4" cy="186.0" r="1.94"/>
<circle cx="523.6" cy="186.0" r="1.98"/>
<circle cx="527.8" cy="186.0" r="2.06"/>
<circle cx="532.0" cy="186.0" r="1.60"/>
<circle cx="536.2" cy="186.0" r="1.43"/>
<circle cx="540.4" cy="186.0" r="1.59"/>
<circle cx="544.6" cy="186.0" r="1.38"/>
<circle cx="548.8" cy="186.0" r="1.20"/>
<circle cx="553.0" cy="186.0" r="1.26"/>
<circle cx="557.2" cy="186.0" r="1.42"/>
<circle cx="561.4" cy="186.0" r="1.40"/>
<circle cx="565.6" cy="186.0" r="1.35"/>
<circle cx="569.8" cy="186.0" r="1.18"/>
<circle cx="574.0" cy="186.0" r="1.57"/>
<circle cx="578.2" cy="186.0" r="1.34"/>
<circle cx="582.4" cy="186.0" r="1.48"/>
<circle cx="586.6" cy="186.0" r="1.56"/>
<circle cx="590.8" cy="186.0" r="1.45"/>
<circle cx="595.0" cy="186.0" r="1.05"/>
<circle cx="599.2" cy="186.0" r="1.56"/>
<circle cx="603.4" cy="186.0" r="1.31"/>
<circle cx="607.6" cy="186.0" r="1.22"/>
<circle cx="611.8" cy="186.0" r="1.53"/>
<circle cx="616.0" cy="186.0" r="1.59"/>
<circle cx="620.2" cy="186.0" r="1.66"/>
<circle cx="624.4" cy="186.0" r="1.72"/>
<circle cx="628.6" cy="186.0" r="1.76"/>
<circle cx="632.8" cy="186.0" r="1.32"/>
<circle cx="637.0" cy="186.0" r="2.01"/>
<circle cx="641.2" cy="186.0" r="1.94"/>
<circle cx="645.4" cy="186.0" r="2.08"/>
<circle cx="649.6" cy="186.0" r="1.84"/>
<circle cx="653.8" cy="186.0" r="1.27"/>
<circle cx="658.0" cy="186.0" r="1.67"/>
<circle cx="662.2" cy="186.0" r="1.81"/>
<circle cx="666.4" cy="186.0" r="2.02"/>
<circle cx="670.6" cy="186.0" r="2.00"/>
<circle cx="674.8" cy="186.0" r="1.92"/>
<circle cx="485.8" cy="190.2" r="1.70"/>
<circle cx="490.0" cy="190.2" r="1.97"/>
<circle cx="494.2" cy="190.2" r="2.09"/>
<circle cx="498.4" cy="190.2" r="1.73"/>
<circle cx="502.6" cy="190.2" r="1.93"/>
<circle cx="506.8" cy="190.2" r="1.53"/>
<circle cx="511.0" cy="190.2" r="1.43"/>
<circle cx="515.2" cy="190.2" r="1.77"/>
<circle cx="519.4" cy="190.2" r="1.92"/>
<circle cx="523.6" cy="190.2" r="2.00"/>
<circle cx="527.8" cy="190.2" r="1.82"/>
<circle cx="532.0" cy="190.2" r="1.71"/>
<circle cx="536.2" cy="190.2" r="1.64"/>
<circle cx="540.4" cy="190.2" r="2.06"/>
<circle cx="544.6" cy="190.2" r="1.56"/>
<circle cx="548.8" cy="190.2" r="2.07"/>
<circle cx="553.0" cy="190.2" r="1.80"/>
<circle cx="557.2" cy="190.2" r="2.00"/>
<circle cx="561.4" cy="190.2" r="1.99"/>
<circle cx="565.6" cy="190.2" r="2.01"/>
<circle cx="569.8" cy="190.2" r="1.94"/>
<circle cx="574.0" cy="190.2" r="1.72"/>
<circle cx="578.2" cy="190.2" r="1.91"/>
<circle cx="582.4" cy="190.2" r="1.87"/>
<circle cx="586.6" cy="190.2" r="1.97"/>
<circle cx="590.8" cy="190.2" r="1.75"/>
<circle cx="595.0" cy="190.2" r="1.79"/>
<circle cx="599.2" cy="190.2" r="1.80"/>
<circle cx="603.4" cy="190.2" r="2.07"/>
<circle cx="607.6" cy="190.2" r="2.05"/>
<circle cx="611.8" cy="190.2" r="1.81"/>
<circle cx="616.0" cy="190.2" r="2.11"/>
<circle cx="620.2" cy="190.2" r="2.10"/>
<circle cx="624.4" cy="190.2" r="2.01"/>
<circle cx="628.6" cy="190.2" r="2.01"/>
<circle cx="632.8" cy="190.2" r="1.96"/>
<circle cx="637.0" cy="190.2" r="1.80"/>
<circle cx="641.2" cy="190.2" r="1.88"/>
<circle cx="645.4" cy="190.2" r="1.73"/>
<circle cx="649.6" cy="190.2" r="1.14"/>
<circle cx="653.8" cy="190.2" r="1.93"/>
<circle cx="658.0" cy="190.2" r="2.02"/>
<circle cx="662.2" cy="190.2" r="2.00"/>
<circle cx="666.4" cy="190.2" r="1.63"/>
<circle cx="670.6" cy="190.2" r="1.87"/>
<circle cx="674.8" cy="190.2" r="1.75"/>
</g>
<path d="M484.7,-1 L484.7,191.4 L676.4,191.4 L676.4,-1" fill="none" stroke="#8a8a8a" stroke-width="1"/>
<line x1="482.2" y1="32.6" x2="484.7" y2="32.6" stroke="#555" stroke-width="0.8"/>
<line x1="482.2" y1="95.7" x2="484.7" y2="95.7" stroke="#555" stroke-width="0.8"/>
<line x1="482.2" y1="158.8" x2="484.7" y2="158.8" stroke="#555" stroke-width="0.8"/>
<line x1="517.3" y1="191.4" x2="517.3" y2="193.9" stroke="#555" stroke-width="0.8"/>
<line x1="580.3" y1="191.4" x2="580.3" y2="193.9" stroke="#555" stroke-width="0.8"/>
<line x1="643.4" y1="191.4" x2="643.4" y2="193.9" stroke="#555" stroke-width="0.8"/>
<g>
<rect x="80.10" y="355.76" width="6.26" height="34.44" fill="#1f77b4" stroke="#14364f" stroke-width="0.8"/>
<rect x="86.36" y="339.72" width="6.26" height="50.48" fill="#1f77b4" stroke="#14364f" stroke-width="0.8"/>
<rect x="92.62" y="334.02" width="6.26" height="56.18" fill="#1f77b4" stroke="#14364f" stroke-width="0.8"/>
<rect x="98.88" y="337.63" width="6.26" height="52.57" fill="#1f77b4" stroke="#14364f" stroke-width="0.8"/>
<rect x="105.14" y="332.44" width="6.26" height="57.76" fill="#1f77b4" stroke="#14364f" stroke-width="0.8"/>
<rect x="111.40" y="329.61" width="6.26" height="60.59" fill="#1f77b4" stroke="#14364f" stroke-width="0.8"/>
<rect x="117.66" y="337.63" width="6.26" height="52.57" fill="#1f77b4" stroke="#14364f" stroke-width="0.8"/>
<rect x="123.92" y="337.63" width="6.26" height="52.57" fill="#1f77b4" stroke="#14364f" stroke-width="0.8"/>
<rect x="130.18" y="347.74" width="6.26" height="42.46" fill="#1f77b4" stroke="#14364f" stroke-width="0.8"/>
<rect x="136.44" y="344.69" width="6.26" height="45.51" fill="#1f77b4" stroke="#14364f" stroke-width="0.8"/>
<rect x="142.70" y="355.76" width="6.26" height="34.44" fill="#1f77b4" stroke="#14364f" stroke-width="0.8"/>
<rect x="148.96" y="355.76" width="6.26" height="34.44" fill="#1f77b4" stroke="#14364f" stroke-width="0.8"/>
<rect x="155.22" y="369.48" width="6.26" height="20.72" fill="#1f77b4" stroke="#14364f" stroke-width="0.8"/>
<rect x="161.48" y="361.46" width="6.26" height="28.74" fill="#1f77b4" stroke="#14364f" stroke-width="0.8"/>
<rect x="167.74" y="383.20" width="6.26" height="7.00" fill="#1f77b4" stroke="#14364f" stroke-width="0.8"/>
<rect x="174.00" y="347.74" width="6.26" height="42.46" fill="#1f77b4" stroke="#14364f" stroke-width="0.8"/>
<rect x="180.26" y="344.69" width="6.26" height="45.51" fill="#1f77b4" stroke="#14364f" stroke-width="0.8"/>
<rect x="186.52" y="351.35" width="6.26" height="38.85" fill="#1f77b4" stroke="#14364f" stroke-width="0.8"/>
<rect x="192.78" y="351.35" width="6.26" height="38.85" fill="#1f77b4" stroke="#14364f" stroke-width="0.8"/>
<rect x="199.04" y="355.76" width="6.26" height="34.44" fill="#1f77b4" stroke="#14364f" stroke-width="0.8"/>
<rect x="205.30" y="344.69" width="6.26" height="45.51" fill="#1f77b4" stroke="#14364f" stroke-width="0.8"/>
<rect x="211.56" y="361.46" width="6.26" height="28.74" fill="#1f77b4" stroke="#14364f" stroke-width="0.8"/>
<rect x="217.82" y="351.35" width="6.26" height="38.85" fill="#1f77b4" stroke="#14364f" stroke-width="0.8"/>
<rect x="224.08" y="347.74" width="6.26" height="42.46" fill="#1f77b4" stroke="#14364f" stroke-width="0.8"/>
<rect x="230.34" y="355.76" width="6.26" height="34.44" fill="#1f77b4" stroke="#14364f" stroke-width="0.8"/>
<rect x="236.60" y="339.72" width="6.26" height="50.48" fill="#1f77b4" stroke="#14364f" stroke-width="0.8"/>
<rect x="242.86" y="335.74" width="6.26" height="54.46" fill="#1f77b4" stroke="#14364f" stroke-width="0.8"/>
<rect x="249.12" y="342.05" width="6.26" height="48.15" fill="#1f77b4" stroke="#14364f" stroke-width="0.8"/>
<rect x="255.38" y="275.92" width="6.26" height="114.28" fill="#1f77b4" stroke="#14364f" stroke-width="0.8"/>
<rect x="261.64" y="291.09" width="6.26" height="99.11" fill="#1f77b4" stroke="#14364f" stroke-width="0.8"/>
<rect x="267.90" y="296.98" width="6.26" height="93.22" fill="#1f77b4" stroke="#14364f" stroke-width="0.8"/>
<rect x="274.16" y="296.98" width="6.26" height="93.22" fill="#1f77b4" stroke="#14364f" stroke-width="0.8"/>
<rect x="280.42" y="301.52" width="6.26" height="88.68" fill="#1f77b4" stroke="#14364f" stroke-width="0.8"/>
<rect x="286.68" y="302.50" width="6.26" height="87.70" fill="#1f77b4" stroke="#14364f" stroke-width="0.8"/>
<rect x="292.94" y="305.78" width="6.26" height="84.42" fill="#1f77b4" stroke="#14364f" stroke-width="0.8"/>
<rect x="299.20" y="299.99" width="6.26" height="90.21" fill="#1f77b4" stroke="#14364f" stroke-width="0.8"/>
<rect x="305.46" y="300.59" width="6.26" height="89.61" fill="#1f77b4" stroke="#14364f" stroke-width="0.8"/>
<rect x="311.72" y="305.00" width="6.26" height="85.20" fill="#1f77b4" stroke="#14364f" stroke-width="0.8"/>
<rect x="317.98" y="305.00" width="6.26" height="85.20" fill="#1f77b4" stroke="#14364f" stroke-width="0.8"/>
<rect x="324.24" y="245.98" width="6.26" height="144.22" fill="#1f77b4" stroke="#14364f" stroke-width="0.8"/>
</g>
<rect x="67.8" y="239.5" width="274.5" height="150.7" fill="none" stroke="#8a8a8a" stroke-width="1"/>
<line x1="66.3" y1="390.2588823165503" x2="67.8" y2="390.2588823165503" stroke="#777" stroke-width="0.6"/>
<line x1="66.3" y1="387.6161892927771" x2="67.8" y2="387.6161892927771" stroke="#777" stroke-width="0.6"/>
<line x1="66.3" y1="385.28516884485" x2="67.8" y2="385.28516884485" stroke="#777" stroke-width="0.6"/>
<line x1="65.3" y1="383.2" x2="67.8" y2="383.2" stroke="#555" stroke-width="0.8"/>
<line x1="66.3" y1="369.48206309759235" x2="67.8" y2="369.48206309759235" stroke="#777" stroke-width="0.6"/>
<line x1="66.3" y1="361.457584422425" x2="67.8" y2="361.457584422425" stroke="#777" stroke-width="0.6"/>
<line x1="66.3" y1="355.76412619518476" x2="67.8" y2="355.76412619518476" stroke="#777" stroke-width="0.6"/>
<line x1="66.3" y1="351.3479369024076" x2="67.8" y2="351.3479369024076" stroke="#777" stroke-width="0.6"/>
<line x1="66.3" y1="347.73964752001734" x2="67.8" y2="347.73964752001734" stroke="#777" stroke-width="0.6"/>
<line x1="66.3" y1="344.6888823165503" x2="67.8" y2="344.6888823165503" stroke="#777" stroke-width="0.6"/>
<line x1="66.3" y1="342.0461892927771" x2="67.8" y2="342.0461892927771" stroke="#777" stroke-width="0.6"/>
<line x1="66.3" y1="339.7151688448499" x2="67.8" y2="339.7151688448499" stroke="#777" stroke-width="0.6"/>
<line x1="65.3" y1="337.63" x2="67.8" y2="337.63" stroke="#555" stroke-width="0.8"/>
<line x1="66.3" y1="323.91206309759235" x2="67.8" y2="323.91206309759235" stroke="#777" stroke-width="0.6"/>
<line x1="66.3" y1="315.887584422425" x2="67.8" y2="315.887584422425" stroke="#777" stroke-width="0.6"/>
<line x1="66.3" y1="310.1941261951847" x2="67.8" y2="310.1941261951847" stroke="#777" stroke-width="0.6"/>
<line x1="66.3" y1="305.77793690240765" x2="67.8" y2="305.77793690240765" stroke="#777" stroke-width="0.6"/>
<line x1="66.3" y1="302.16964752001735" x2="67.8" y2="302.16964752001735" stroke="#777" stroke-width="0.6"/>
<line x1="66.3" y1="299.1188823165503" x2="67.8" y2="299.1188823165503" stroke="#777" stroke-width="0.6"/>
<line x1="66.3" y1="296.4761892927771" x2="67.8" y2="296.4761892927771" stroke="#777" stroke-width="0.6"/>
<line x1="66.3" y1="294.14516884485" x2="67.8" y2="294.14516884485" stroke="#777" stroke-width="0.6"/>
<line x1="65.3" y1="292.06" x2="67.8" y2="292.06" stroke="#555" stroke-width="0.8"/>
<line x1="66.3" y1="278.34206309759236" x2="67.8" y2="278.34206309759236" stroke="#777" stroke-width="0.6"/>
<line x1="66.3" y1="270.31758442242494" x2="67.8" y2="270.31758442242494" stroke="#777" stroke-width="0.6"/>
<line x1="66.3" y1="264.6241261951848" x2="67.8" y2="264.6241261951848" stroke="#777" stroke-width="0.6"/>
<line x1="66.3" y1="260.2079369024076" x2="67.8" y2="260.2079369024076" stroke="#777" stroke-width="0.6"/>
<line x1="66.3" y1="256.59964752001736" x2="67.8" y2="256.59964752001736" stroke="#777" stroke-width="0.6"/>
<line x1="66.3" y1="253.5488823165503" x2="67.8" y2="253.5488823165503" stroke="#777" stroke-width="0.6"/>
<line x1="66.3" y1="250.9061892927771" x2="67.8" y2="250.9061892927771" stroke="#777" stroke-width="0.6"/>
<line x1="66.3" y1="248.57516884484997" x2="67.8" y2="248.57516884484997" stroke="#777" stroke-width="0.6"/>
<line x1="65.3" y1="246.48999999999998" x2="67.8" y2="246.48999999999998" stroke="#555" stroke-width="0.8"/>
<line x1="80.1" y1="390.2" x2="80.1" y2="392.4" stroke="#555" stroke-width="0.8"/>
<line x1="148.3" y1="390.2" x2="148.3" y2="392.4" stroke="#555" stroke-width="0.8"/>
<line x1="216.4" y1="390.2" x2="216.4" y2="392.4" stroke="#555" stroke-width="0.8"/>
<line x1="284.7" y1="390.2" x2="284.7" y2="392.4" stroke="#555" stroke-width="0.8"/>
<g>
<rect x="422.20" y="246.31" width="6.26" height="143.89" fill="#1f77b4" stroke="#14364f" stroke-width="0.8"/>
<rect x="428.46" y="251.09" width="6.26" height="139.11" fill="#1f77b4" stroke="#14364f" stroke-width="0.8"/>
<rect x="434.72" y="246.31" width="6.26" height="143.89" fill="#1f77b4" stroke="#14364f" stroke-width="0.8"/>
<rect x="440.98" y="249.03" width="6.26" height="141.17" fill="#1f77b4" stroke="#14364f" stroke-width="0.8"/>
<rect x="447.24" y="253.02" width="6.26" height="137.18" fill="#1f77b4" stroke="#14364f" stroke-width="0.8"/>
<rect x="453.50" y="257.50" width="6.26" height="132.70" fill="#1f77b4" stroke="#14364f" stroke-width="0.8"/>
<rect x="459.76" y="265.37" width="6.26" height="124.83" fill="#1f77b4" stroke="#14364f" stroke-width="0.8"/>
<rect x="466.02" y="271.00" width="6.26" height="119.20" fill="#1f77b4" stroke="#14364f" stroke-width="0.8"/>
<rect x="472.28" y="285.55" width="6.26" height="104.65" fill="#1f77b4" stroke="#14364f" stroke-width="0.8"/>
<rect x="478.54" y="289.97" width="6.26" height="100.23" fill="#1f77b4" stroke="#14364f" stroke-width="0.8"/>
<rect x="484.80" y="292.18" width="6.26" height="98.02" fill="#1f77b4" stroke="#14364f" stroke-width="0.8"/>
<rect x="491.06" y="295.20" width="6.26" height="95.00" fill="#1f77b4" stroke="#14364f" stroke-width="0.8"/>
<rect x="497.32" y="295.20" width="6.26" height="95.00" fill="#1f77b4" stroke="#14364f" stroke-width="0.8"/>
<rect x="503.58" y="308.95" width="6.26" height="81.25" fill="#1f77b4" stroke="#14364f" stroke-width="0.8"/>
<rect x="509.84" y="307.92" width="6.26" height="82.28" fill="#1f77b4" stroke="#14364f" stroke-width="0.8"/>
<rect x="516.10" y="307.92" width="6.26" height="82.28" fill="#1f77b4" stroke="#14364f" stroke-width="0.8"/>
<rect x="522.36" y="318.84" width="6.26" height="71.36" fill="#1f77b4" stroke="#14364f" stroke-width="0.8"/>
<rect x="528.62" y="334.22" width="6.26" height="55.98" fill="#1f77b4" stroke="#14364f" stroke-width="0.8"/>
<rect x="534.88" y="329.52" width="6.26" height="60.68" fill="#1f77b4" stroke="#14364f" stroke-width="0.8"/>
<rect x="541.14" y="336.90" width="6.26" height="53.30" fill="#1f77b4" stroke="#14364f" stroke-width="0.8"/>
<rect x="547.40" y="321.97" width="6.26" height="68.23" fill="#1f77b4" stroke="#14364f" stroke-width="0.8"/>
<rect x="553.66" y="321.97" width="6.26" height="68.23" fill="#1f77b4" stroke="#14364f" stroke-width="0.8"/>
<rect x="559.92" y="334.22" width="6.26" height="55.98" fill="#1f77b4" stroke="#14364f" stroke-width="0.8"/>
<rect x="566.18" y="334.22" width="6.26" height="55.98" fill="#1f77b4" stroke="#14364f" stroke-width="0.8"/>
<rect x="572.44" y="327.43" width="6.26" height="62.77" fill="#1f77b4" stroke="#14364f" stroke-width="0.8"/>
<rect x="578.70" y="329.52" width="6.26" height="60.68" fill="#1f77b4" stroke="#14364f" stroke-width="0.8"/>
<rect x="584.96" y="336.90" width="6.26" height="53.30" fill="#1f77b4" stroke="#14364f" stroke-width="0.8"/>
<rect x="591.22" y="329.52" width="6.26" height="60.68" fill="#1f77b4" stroke="#14364f" stroke-width="0.8"/>
<rect x="597.48" y="321.97" width="6.26" height="68.23" fill="#1f77b4" stroke="#14364f" stroke-width="0.8"/>
<rect x="603.74" y="331.77" width="6.26" height="58.43" fill="#1f77b4" stroke="#14364f" stroke-width="0.8"/>
<rect x="610.00" y="339.87" width="6.26" height="50.33" fill="#1f77b4" stroke="#14364f" stroke-width="0.8"/>
<rect x="616.26" y="343.18" width="6.26" height="47.02" fill="#1f77b4" stroke="#14364f" stroke-width="0.8"/>
<rect x="622.52" y="336.90" width="6.26" height="53.30" fill="#1f77b4" stroke="#14364f" stroke-width="0.8"/>
<rect x="628.78" y="334.22" width="6.26" height="55.98" fill="#1f77b4" stroke="#14364f" stroke-width="0.8"/>
<rect x="635.04" y="346.94" width="6.26" height="43.26" fill="#1f77b4" stroke="#14364f" stroke-width="0.8"/>
<rect x="641.30" y="382.19" width="6.26" height="8.01" fill="#1f77b4" stroke="#14364f" stroke-width="0.8"/>
<rect x="647.56" y="370.78" width="6.26" height="19.42" fill="#1f77b4" stroke="#14364f" stroke-width="0.8"/>
<rect x="653.82" y="356.41" width="6.26" height="33.79" fill="#1f77b4" stroke="#14364f" stroke-width="0.8"/>
<rect x="660.08" y="382.19" width="6.26" height="8.01" fill="#1f77b4" stroke="#14364f" stroke-width="0.8"/>
<rect x="666.34" y="382.19" width="6.26" height="8.01" fill="#1f77b4" stroke="#14364f" stroke-width="0.8"/>
</g>
<rect x="409.8" y="239.5" width="273.49999999999994" height="150.7" fill="none" stroke="#8a8a8a" stroke-width="1"/>
<line x1="408.3" y1="382.193256280974" x2="409.8" y2="382.193256280974" stroke="#777" stroke-width="0.6"/>
<line x1="408.3" y1="370.78254269416584" x2="409.8" y2="370.78254269416584" stroke="#777" stroke-width="0.6"/>
<line x1="408.3" y1="362.686512561948" x2="409.8" y2="362.686512561948" stroke="#777" stroke-width="0.6"/>
<line x1="408.3" y1="356.40674371902594" x2="409.8" y2="356.40674371902594" stroke="#777" stroke-width="0.6"/>
<line x1="408.3" y1="351.2757989751399" x2="409.8" y2="351.2757989751399" stroke="#777" stroke-width="0.6"/>
<line x1="408.3" y1="346.9376470070762" x2="409.8" y2="346.9376470070762" stroke="#777" stroke-width="0.6"/>
<line x1="408.3" y1="343.17976884292204" x2="409.8" y2="343.17976884292204" stroke="#777" stroke-width="0.6"/>
<line x1="408.3" y1="339.86508538833175" x2="409.8" y2="339.86508538833175" stroke="#777" stroke-width="0.6"/>
<line x1="407.3" y1="336.9" x2="409.8" y2="336.9" stroke="#555" stroke-width="0.8"/>
<line x1="408.3" y1="317.393256280974" x2="409.8" y2="317.393256280974" stroke="#777" stroke-width="0.6"/>
<line x1="408.3" y1="305.9825426941659" x2="409.8" y2="305.9825426941659" stroke="#777" stroke-width="0.6"/>
<line x1="408.3" y1="297.88651256194805" x2="409.8" y2="297.88651256194805" stroke="#777" stroke-width="0.6"/>
<line x1="408.3" y1="291.606743719026" x2="409.8" y2="291.606743719026" stroke="#777" stroke-width="0.6"/>
<line x1="408.3" y1="286.47579897513987" x2="409.8" y2="286.47579897513987" stroke="#777" stroke-width="0.6"/>
<line x1="408.3" y1="282.1376470070761" x2="409.8" y2="282.1376470070761" stroke="#777" stroke-width="0.6"/>
<line x1="408.3" y1="278.37976884292203" x2="409.8" y2="278.37976884292203" stroke="#777" stroke-width="0.6"/>
<line x1="408.3" y1="275.06508538833174" x2="409.8" y2="275.06508538833174" stroke="#777" stroke-width="0.6"/>
<line x1="407.3" y1="272.1" x2="409.8" y2="272.1" stroke="#555" stroke-width="0.8"/>
<line x1="408.3" y1="252.593256280974" x2="409.8" y2="252.593256280974" stroke="#777" stroke-width="0.6"/>
<line x1="408.3" y1="241.18254269416585" x2="409.8" y2="241.18254269416585" stroke="#777" stroke-width="0.6"/>
<line x1="422.2" y1="390.2" x2="422.2" y2="392.4" stroke="#555" stroke-width="0.8"/>
<line x1="469.7" y1="390.2" x2="469.7" y2="392.4" stroke="#555" stroke-width="0.8"/>
<line x1="517.2" y1="390.2" x2="517.2" y2="392.4" stroke="#555" stroke-width="0.8"/>
<line x1="564.7" y1="390.2" x2="564.7" y2="392.4" stroke="#555" stroke-width="0.8"/>
<line x1="612.2" y1="390.2" x2="612.2" y2="392.4" stroke="#555" stroke-width="0.8"/>
<line x1="659.7" y1="390.2" x2="659.7" y2="392.4" stroke="#555" stroke-width="0.8"/>
<text transform="translate(-0.72,15.72) scale(1.0655,1)" font-size="12.99" font-family="Liberation Sans" font-style="normal" fill="#000">a)</text>
<text transform="translate(417.08,15.53) scale(1.1062,1)" font-size="12.73" font-family="Liberation Sans" font-style="normal" fill="#000">b)</text>
<text transform="translate(2.95,241.09) scale(1.1562,1)" font-size="12.41" font-family="Liberation Sans" font-style="normal" fill="#000">c)</text>
<text transform="translate(24.32,130.79) rotate(-90) scale(1.1888,1)" font-size="15.61" font-family="Liberation Sans" font-style="normal" fill="#000">Efficiency</text>
<text transform="translate(30.49,34.97) scale(1.1462,1)" font-size="13.24" font-family="Liberation Sans" font-style="normal" fill="#000">0.200</text>
<text transform="translate(30.49,70.77) scale(1.1486,1)" font-size="13.24" font-family="Liberation Sans" font-style="normal" fill="#000">0.175</text>
<text transform="translate(30.49,106.27) scale(1.1462,1)" font-size="13.24" font-family="Liberation Sans" font-style="normal" fill="#000">0.150</text>
<text transform="translate(30.49,141.87) scale(1.1486,1)" font-size="13.24" font-family="Liberation Sans" font-style="normal" fill="#000">0.125</text>
<text transform="translate(30.49,177.47) scale(1.1462,1)" font-size="13.24" font-family="Liberation Sans" font-style="normal" fill="#000">0.100</text>
<text transform="translate(84.11,196.47) scale(1.1251,1)" font-size="13.10" font-family="Liberation Sans" font-style="normal" fill="#000">0</text>
<text transform="translate(161.56,196.47) scale(1.1604,1)" font-size="13.10" font-family="Liberation Sans" font-style="normal" fill="#000">10</text>
<text transform="translate(243.00,196.47) scale(1.2215,1)" font-size="13.10" font-family="Liberation Sans" font-style="normal" fill="#000">20</text>
<text transform="translate(325.59,196.47) scale(1.1728,1)" font-size="13.10" font-family="Liberation Sans" font-style="normal" fill="#000">30</text>
<text transform="translate(195.73,213.55) scale(1.3151,1)" font-size="14.97" font-family="Liberation Sans" font-style="normal" fill="#000">Iteration</text>
<text transform="translate(192.00,72.91) scale(0.9400,1)" font-size="10.64" font-family="Liberation Sans" font-style="normal" fill="#000">|</text>
<text transform="translate(194.97,73.50) scale(0.7038,1)" font-size="11.01" font-family="Liberation Sans" font-style="italic" fill="#000">E</text>
<text transform="translate(201.44,75.40) scale(1.0982,1)" font-size="7.74" font-family="Liberation Sans" font-style="italic" fill="#000" stroke="#000" stroke-width="0.1">x</text>
<text transform="translate(207.30,72.91) scale(0.9400,1)" font-size="10.64" font-family="Liberation Sans" font-style="normal" fill="#000">|</text>
<text transform="translate(210.70,69.30) scale(0.9079,1)" font-size="8.71" font-family="Liberation Sans" font-style="normal" fill="#000" stroke="#000" stroke-width="0.1">2</text>
<text transform="translate(154.82,93.70) scale(1.4305,1)" font-size="8.14" font-family="Liberation Sans" font-style="normal" fill="#000" stroke="#000" stroke-width="0.1">2</text>
<text transform="translate(154.94,119.62) scale(1.3702,1)" font-size="8.45" font-family="Liberation Sans" font-style="normal" fill="#000" stroke="#000" stroke-width="0.1">0</text>
<text transform="translate(147.81,145.90) scale(1.4524,1)" font-size="8.14" font-family="Liberation Sans" font-style="normal" fill="#000" stroke="#000" stroke-width="0.1">−2</text>
<text transform="translate(159.14,165.82) scale(1.3570,1)" font-size="8.31" font-family="Liberation Sans" font-style="normal" fill="#000" stroke="#000" stroke-width="0.1">−2.5</text>
<text transform="translate(195.37,165.82) scale(1.2861,1)" font-size="8.31" font-family="Liberation Sans" font-style="normal" fill="#000" stroke="#000" stroke-width="0.1">0.0</text>
<text transform="translate(228.16,165.82) scale(1.2960,1)" font-size="8.31" font-family="Liberation Sans" font-style="normal" fill="#000" stroke="#000" stroke-width="0.1">2.5</text>
<text transform="translate(185.11,177.19) scale(1.2791,1)" font-size="10.05" font-family="Liberation Sans" font-style="normal" fill="#000">x (<tspan font-style="italic">μm</tspan>)</text>
<text transform="translate(142.97,135.47) rotate(-90) scale(1.4522,1)" font-size="9.20" font-family="Liberation Sans" font-style="normal" fill="#000" stroke="#000" stroke-width="0.1">y (<tspan font-style="italic">μm</tspan>)</text>
<text transform="translate(308.00,72.91) scale(0.9400,1)" font-size="10.64" font-family="Liberation Sans" font-style="normal" fill="#000">|</text>
<text transform="translate(310.97,73.50) scale(0.7038,1)" font-size="11.01" font-family="Liberation Sans" font-style="italic" fill="#000">E</text>
<text transform="translate(317.44,75.40) scale(1.0982,1)" font-size="7.74" font-family="Liberation Sans" font-style="italic" fill="#000" stroke="#000" stroke-width="0.1">x</text>
<text transform="translate(323.30,72.91) scale(0.9400,1)" font-size="10.64" font-family="Liberation Sans" font-style="normal" fill="#000">|</text>
<text transform="translate(326.70,69.30) scale(0.9079,1)" font-size="8.71" font-family="Liberation Sans" font-style="normal" fill="#000" stroke="#000" stroke-width="0.1">2</text>
<text transform="translate(270.82,93.70) scale(1.4305,1)" font-size="8.14" font-family="Liberation Sans" font-style="normal" fill="#000" stroke="#000" stroke-width="0.1">2</text>
<text transform="translate(270.94,119.62) scale(1.3702,1)" font-size="8.45" font-family="Liberation Sans" font-style="normal" fill="#000" stroke="#000" stroke-width="0.1">0</text>
<text transform="translate(263.81,145.90) scale(1.4524,1)" font-size="8.14" font-family="Liberation Sans" font-style="normal" fill="#000" stroke="#000" stroke-width="0.1">−2</text>
<text transform="translate(275.14,165.82) scale(1.3570,1)" font-size="8.31" font-family="Liberation Sans" font-style="normal" fill="#000" stroke="#000" stroke-width="0.1">−2.5</text>
<text transform="translate(311.37,165.82) scale(1.2861,1)" font-size="8.31" font-family="Liberation Sans" font-style="normal" fill="#000" stroke="#000" stroke-width="0.1">0.0</text>
<text transform="translate(344.16,165.82) scale(1.2960,1)" font-size="8.31" font-family="Liberation Sans" font-style="normal" fill="#000" stroke="#000" stroke-width="0.1">2.5</text>
<text transform="translate(301.11,177.19) scale(1.2791,1)" font-size="10.05" font-family="Liberation Sans" font-style="normal" fill="#000">x (<tspan font-style="italic">μm</tspan>)</text>
<text transform="translate(258.97,135.47) rotate(-90) scale(1.4522,1)" font-size="9.20" font-family="Liberation Sans" font-style="normal" fill="#000" stroke="#000" stroke-width="0.1">y (<tspan font-style="italic">μm</tspan>)</text>
<text transform="translate(370.42,159.12) scale(1.2230,1)" font-size="7.75" font-family="Liberation Sans" font-style="normal" fill="#000" stroke="#000" stroke-width="0.1">0</text>
<text transform="translate(370.05,130.92) scale(1.1995,1)" font-size="8.31" font-family="Liberation Sans" font-style="normal" fill="#000" stroke="#000" stroke-width="0.1">100</text>
<text transform="translate(370.31,101.91) scale(1.1234,1)" font-size="8.73" font-family="Liberation Sans" font-style="normal" fill="#000" stroke="#000" stroke-width="0.1">200</text>
<text transform="translate(462.50,37.86) scale(1.1833,1)" font-size="13.52" font-family="Liberation Sans" font-style="normal" fill="#000">10</text>
<text transform="translate(471.52,100.76) scale(1.0743,1)" font-size="13.52" font-family="Liberation Sans" font-style="normal" fill="#000">0</text>
<text transform="translate(450.85,163.47) scale(1.2847,1)" font-size="13.24" font-family="Liberation Sans" font-style="normal" fill="#000">−10</text>
<text transform="translate(502.20,206.57) scale(1.3553,1)" font-size="13.24" font-family="Liberation Sans" font-style="normal" fill="#000">−10</text>
<text transform="translate(576.24,206.37) scale(1.0542,1)" font-size="13.38" font-family="Liberation Sans" font-style="normal" fill="#000">0</text>
<text transform="translate(634.71,206.27) scale(1.1934,1)" font-size="13.24" font-family="Liberation Sans" font-style="normal" fill="#000">10</text>
<text transform="translate(551.69,224.76) scale(1.1985,1)" font-size="17.33" font-family="Liberation Sans" font-style="normal" fill="#000">x (<tspan font-style="italic">μm</tspan>)</text>
<text transform="translate(442.60,124.00) rotate(-90) scale(1.1427,1)" font-size="18.07" font-family="Liberation Sans" font-style="normal" fill="#000">y (<tspan font-style="italic">μm</tspan>)</text>
<text transform="translate(44.91,250.39) scale(1.0605,1)" font-size="11.13" font-family="Liberation Sans" font-style="normal" fill="#000">10</text>
<text transform="translate(59.57,246.52) scale(0.9819,1)" font-size="8.45" font-family="Liberation Sans" font-style="normal" fill="#000" stroke="#000" stroke-width="0.1">3</text>
<text transform="translate(44.91,295.99) scale(1.0605,1)" font-size="11.13" font-family="Liberation Sans" font-style="normal" fill="#000">10</text>
<text transform="translate(59.47,292.20) scale(1.0000,1)" font-size="8.57" font-family="Liberation Sans" font-style="normal" fill="#000" stroke="#000" stroke-width="0.1">2</text>
<text transform="translate(44.91,341.49) scale(1.0605,1)" font-size="11.13" font-family="Liberation Sans" font-style="normal" fill="#000">10</text>
<text transform="translate(59.31,337.70) scale(0.9093,1)" font-size="8.70" font-family="Liberation Sans" font-style="normal" fill="#000" stroke="#000" stroke-width="0.1">1</text>
<text transform="translate(44.91,387.09) scale(1.0605,1)" font-size="11.13" font-family="Liberation Sans" font-style="normal" fill="#000">10</text>
<text transform="translate(59.57,383.22) scale(0.9716,1)" font-size="8.45" font-family="Liberation Sans" font-style="normal" fill="#000" stroke="#000" stroke-width="0.1">0</text>
<text transform="translate(386.92,275.99) scale(1.0605,1)" font-size="11.13" font-family="Liberation Sans" font-style="normal" fill="#000">10</text>
<text transform="translate(401.77,272.20) scale(1.0000,1)" font-size="8.57" font-family="Liberation Sans" font-style="normal" fill="#000" stroke="#000" stroke-width="0.1">2</text>
<text transform="translate(386.92,340.79) scale(1.0605,1)" font-size="11.13" font-family="Liberation Sans" font-style="normal" fill="#000">10</text>
<text transform="translate(401.61,337.00) scale(0.9093,1)" font-size="8.70" font-family="Liberation Sans" font-style="normal" fill="#000" stroke="#000" stroke-width="0.1">1</text>
<text transform="translate(76.48,402.19) scale(1.1881,1)" font-size="10.99" font-family="Liberation Sans" font-style="normal" fill="#000">0</text>
<text transform="translate(144.68,402.19) scale(1.1714,1)" font-size="11.14" font-family="Liberation Sans" font-style="normal" fill="#000">5</text>
<text transform="translate(209.10,402.19) scale(1.1560,1)" font-size="10.99" font-family="Liberation Sans" font-style="normal" fill="#000">10</text>
<text transform="translate(277.39,402.19) scale(1.1455,1)" font-size="11.14" font-family="Liberation Sans" font-style="normal" fill="#000">15</text>
<text transform="translate(418.64,402.29) scale(1.1841,1)" font-size="10.85" font-family="Liberation Sans" font-style="normal" fill="#000" stroke="#000" stroke-width="0.1">0</text>
<text transform="translate(462.62,402.29) scale(1.1605,1)" font-size="10.85" font-family="Liberation Sans" font-style="normal" fill="#000" stroke="#000" stroke-width="0.1">20</text>
<text transform="translate(510.44,402.29) scale(1.1328,1)" font-size="10.85" font-family="Liberation Sans" font-style="normal" fill="#000" stroke="#000" stroke-width="0.1">40</text>
<text transform="translate(557.62,402.29) scale(1.1605,1)" font-size="10.85" font-family="Liberation Sans" font-style="normal" fill="#000" stroke="#000" stroke-width="0.1">60</text>
<text transform="translate(605.19,402.29) scale(1.1548,1)" font-size="10.85" font-family="Liberation Sans" font-style="normal" fill="#000" stroke="#000" stroke-width="0.1">80</text>
<text transform="translate(649.06,402.29) scale(1.1504,1)" font-size="10.85" font-family="Liberation Sans" font-style="normal" fill="#000" stroke="#000" stroke-width="0.1">100</text>
<text transform="translate(131.07,415.82) scale(1.2507,1)" font-size="12.30" font-family="Liberation Sans" font-style="normal" fill="#000">Position Change (nm)</text>
<text transform="translate(477.28,415.82) scale(1.2431,1)" font-size="12.30" font-family="Liberation Sans" font-style="normal" fill="#000">Radius Change (nm)</text>
<text transform="translate(39.39,384.67) rotate(-90) scale(1.1880,1)" font-size="13.37" font-family="Liberation Sans" font-style="normal" fill="#000">Log(# of Scatterers)</text>
<text transform="translate(381.69,383.87) rotate(-90) scale(1.1074,1)" font-size="14.33" font-family="Liberation Sans" font-style="normal" fill="#000">Log(# of Scatterers)</text></svg></body></html>
